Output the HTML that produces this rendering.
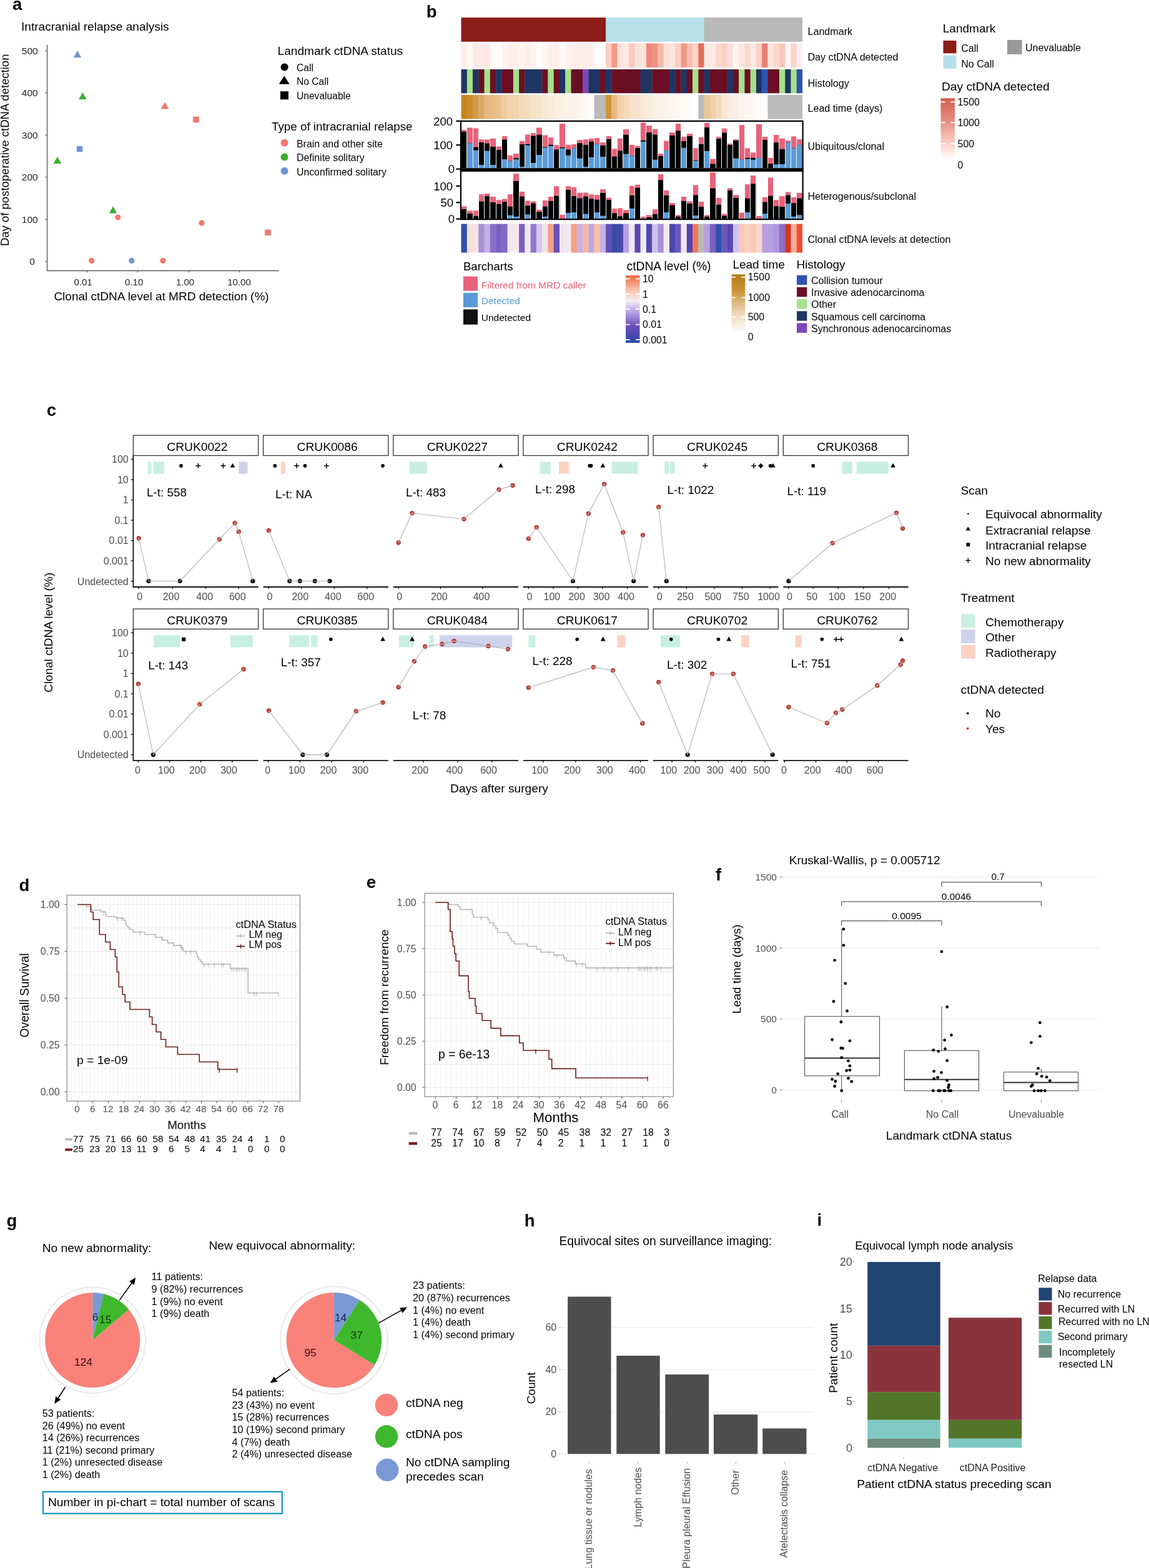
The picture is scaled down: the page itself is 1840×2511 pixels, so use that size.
<!DOCTYPE html>
<html><head><meta charset="utf-8"><title>Figure</title>
<style>
html,body{margin:0;padding:0;background:#fff;}
svg{display:block;}
svg text{font-family:"Liberation Sans", Arial, Helvetica, sans-serif;}
</style></head><body>
<svg width="1840" height="2511" viewBox="0 0 1840 2511">
<rect width="1840" height="2511" fill="#fff"/>
<text x="20" y="15.6" font-size="27.5" font-weight="bold">a</text>
<text x="34" y="49.4" font-size="19.1">Intracranial relapse analysis</text>
<line x1="75.5" y1="71.8" x2="75.5" y2="434.2" stroke="#555" stroke-width="1.3"/>
<line x1="74.9" y1="433.5" x2="446.3" y2="433.5" stroke="#555" stroke-width="1.3"/>
<line x1="72.3" y1="418.6" x2="75.5" y2="418.6" stroke="#555" stroke-width="1"/>
<text x="55.8" y="423.9" font-size="15.5" text-anchor="end" fill="#222">0</text>
<line x1="72.3" y1="351.2" x2="75.5" y2="351.2" stroke="#555" stroke-width="1"/>
<text x="60.7" y="356.5" font-size="15.5" text-anchor="end" fill="#222">100</text>
<line x1="72.3" y1="283.7" x2="75.5" y2="283.7" stroke="#555" stroke-width="1"/>
<text x="60.7" y="289" font-size="15.5" text-anchor="end" fill="#222">200</text>
<line x1="72.3" y1="216.3" x2="75.5" y2="216.3" stroke="#555" stroke-width="1"/>
<text x="60.7" y="221.6" font-size="15.5" text-anchor="end" fill="#222">300</text>
<line x1="72.3" y1="148.8" x2="75.5" y2="148.8" stroke="#555" stroke-width="1"/>
<text x="60.7" y="154.1" font-size="15.5" text-anchor="end" fill="#222">400</text>
<line x1="72.3" y1="81.4" x2="75.5" y2="81.4" stroke="#555" stroke-width="1"/>
<text x="60.7" y="86.7" font-size="15.5" text-anchor="end" fill="#222">500</text>
<line x1="139.3" y1="433.5" x2="139.3" y2="436.5" stroke="#555" stroke-width="1"/>
<text x="133.1" y="457" font-size="15" text-anchor="middle" fill="#222">0.01</text>
<line x1="220.4" y1="433.5" x2="220.4" y2="436.5" stroke="#555" stroke-width="1"/>
<text x="214.7" y="457" font-size="15" text-anchor="middle" fill="#222">0.10</text>
<line x1="302.3" y1="433.5" x2="302.3" y2="436.5" stroke="#555" stroke-width="1"/>
<text x="296.6" y="457" font-size="15" text-anchor="middle" fill="#222">1.00</text>
<line x1="383.3" y1="433.5" x2="383.3" y2="436.5" stroke="#555" stroke-width="1"/>
<text x="383" y="457" font-size="15" text-anchor="middle" fill="#222">10.00</text>
<text x="258.5" y="480.7" font-size="19" text-anchor="middle">Clonal ctDNA level at MRD detection (%)</text>
<text x="14.3" y="240.3" font-size="18.5" text-anchor="middle" transform="rotate(-90 14.3 240.3)">Day of postoperative ctDNA detection</text>
<path d="M124 81L130.2 92.2L117.8 92.2Z" fill="#7196D4"/>
<path d="M132.3 147.8L138.6 159.1L126.1 159.1Z" fill="#3BAE30"/>
<path d="M264 163.2L270.2 174.4L257.8 174.4Z" fill="#F8766D"/>
<rect x="309.1" y="186.8" width="9.5" height="9.5" fill="#F8766D"/>
<rect x="122.8" y="233.8" width="9.5" height="9.5" fill="#7196D4"/>
<path d="M91.9 250.9L98.2 262.1L85.7 262.1Z" fill="#3BAE30"/>
<path d="M181 330.2L187.2 341.5L174.8 341.5Z" fill="#3BAE30"/>
<circle cx="188.8" cy="348" r="4.6" fill="#F8766D"/>
<circle cx="323" cy="357" r="4.6" fill="#F8766D"/>
<rect x="424.1" y="367.6" width="9.5" height="9.5" fill="#F8766D"/>
<circle cx="146.7" cy="417.4" r="4.6" fill="#F8766D"/>
<circle cx="210.8" cy="417.4" r="4.6" fill="#7196D4"/>
<circle cx="260.9" cy="417.4" r="4.6" fill="#F8766D"/>
<text x="444.6" y="88.1" font-size="19.1">Landmark ctDNA status</text>
<circle cx="455.6" cy="107.6" r="6" fill="#000"/>
<text x="475" y="114" font-size="15.6">Call</text>
<path d="M455.2 121.2L463.6 134.7L446.8 134.7Z" fill="#000"/>
<text x="475" y="136.4" font-size="15.6">No Call</text>
<rect x="448.9" y="146.3" width="13" height="13" fill="#000"/>
<text x="475" y="158.5" font-size="15.6">Unevaluable</text>
<text x="435" y="208.5" font-size="18.8">Type of intracranial relapse</text>
<circle cx="455.6" cy="228.8" r="6" fill="#F8766D"/>
<text x="475" y="235.6" font-size="15.9">Brain and other site</text>
<circle cx="455.6" cy="251.4" r="6" fill="#3BAE30"/>
<text x="475" y="258" font-size="15.9">Definite solitary</text>
<circle cx="455.6" cy="273.7" r="6" fill="#7196D4"/>
<text x="475" y="280.5" font-size="15.8">Unconfirmed solitary</text>
<text x="682.7" y="28.1" font-size="27.5" font-weight="bold">b</text>
<rect x="738.5" y="28.1" width="231.9" height="38.7" fill="#8B1C17"/>
<rect x="970.1" y="28.1" width="157.8" height="38.7" fill="#B7E0E9"/>
<rect x="1127.5" y="28.1" width="157.5" height="38.7" fill="#B9B9B9"/>
<rect x="738.5" y="69.4" width="9.6" height="38.6" fill="#fdeee9"/>
<rect x="747.8" y="69.4" width="9.6" height="38.6" fill="#fff7f5"/>
<rect x="757" y="69.4" width="9.6" height="38.6" fill="#fde8e4"/>
<rect x="766.3" y="69.4" width="9.6" height="38.6" fill="#fde9e5"/>
<rect x="775.6" y="69.4" width="9.6" height="38.6" fill="#fde6e2"/>
<rect x="784.8" y="69.4" width="9.6" height="38.6" fill="#fffaf9"/>
<rect x="794.1" y="69.4" width="9.6" height="38.6" fill="#fffcfb"/>
<rect x="803.3" y="69.4" width="9.6" height="38.6" fill="#fff4f1"/>
<rect x="812.6" y="69.4" width="18.9" height="38.6" fill="#feefeb"/>
<rect x="831.1" y="69.4" width="9.6" height="38.6" fill="#fff5f3"/>
<rect x="840.4" y="69.4" width="9.6" height="38.6" fill="#fdeee9"/>
<rect x="849.7" y="69.4" width="9.6" height="38.6" fill="#fff3f0"/>
<rect x="858.9" y="69.4" width="9.6" height="38.6" fill="#fffcfb"/>
<rect x="868.2" y="69.4" width="9.6" height="38.6" fill="#fff6f4"/>
<rect x="877.4" y="69.4" width="9.6" height="38.6" fill="#fdf0ec"/>
<rect x="886.7" y="69.4" width="9.6" height="38.6" fill="#fdeee9"/>
<rect x="896" y="69.4" width="9.6" height="38.6" fill="#fffbfa"/>
<rect x="905.2" y="69.4" width="9.6" height="38.6" fill="#fef1ed"/>
<rect x="914.5" y="69.4" width="18.9" height="38.6" fill="#fdeee9"/>
<rect x="933" y="69.4" width="9.6" height="38.6" fill="#fdece8"/>
<rect x="942.3" y="69.4" width="9.6" height="38.6" fill="#fdeee9"/>
<rect x="951.5" y="69.4" width="18.9" height="38.6" fill="#fffcfb"/>
<rect x="970.1" y="69.4" width="9.6" height="38.6" fill="#fccdc1"/>
<rect x="979.3" y="69.4" width="9.6" height="38.6" fill="#f49a88"/>
<rect x="988.6" y="69.4" width="9.6" height="38.6" fill="#fde0d8"/>
<rect x="997.9" y="69.4" width="9.6" height="38.6" fill="#fde8e2"/>
<rect x="1007.1" y="69.4" width="9.6" height="38.6" fill="#fac8bc"/>
<rect x="1016.4" y="69.4" width="9.6" height="38.6" fill="#fde0d8"/>
<rect x="1025.6" y="69.4" width="9.6" height="38.6" fill="#fde4dc"/>
<rect x="1034.9" y="69.4" width="9.6" height="38.6" fill="#ee8878"/>
<rect x="1044.2" y="69.4" width="9.6" height="38.6" fill="#f09080"/>
<rect x="1053.4" y="69.4" width="9.6" height="38.6" fill="#f8b8a8"/>
<rect x="1062.7" y="69.4" width="9.6" height="38.6" fill="#fde0d8"/>
<rect x="1072" y="69.4" width="9.6" height="38.6" fill="#fde4dc"/>
<rect x="1081.2" y="69.4" width="9.6" height="38.6" fill="#fcd0c4"/>
<rect x="1090.5" y="69.4" width="9.6" height="38.6" fill="#f09884"/>
<rect x="1099.7" y="69.4" width="9.6" height="38.6" fill="#f8c0b0"/>
<rect x="1109" y="69.4" width="9.6" height="38.6" fill="#fcd4c8"/>
<rect x="1118.3" y="69.4" width="9.6" height="38.6" fill="#e07060"/>
<rect x="1127.5" y="69.4" width="9.6" height="38.6" fill="#fdeae6"/>
<rect x="1136.8" y="69.4" width="9.6" height="38.6" fill="#fde8e2"/>
<rect x="1146.1" y="69.4" width="9.6" height="38.6" fill="#fcd8cc"/>
<rect x="1155.3" y="69.4" width="9.6" height="38.6" fill="#fad0c4"/>
<rect x="1164.6" y="69.4" width="9.6" height="38.6" fill="#fce0d8"/>
<rect x="1173.8" y="69.4" width="9.6" height="38.6" fill="#fff4f2"/>
<rect x="1183.1" y="69.4" width="9.6" height="38.6" fill="#fde6e0"/>
<rect x="1192.4" y="69.4" width="9.6" height="38.6" fill="#fcd8cc"/>
<rect x="1201.6" y="69.4" width="9.6" height="38.6" fill="#fde8e4"/>
<rect x="1210.9" y="69.4" width="9.6" height="38.6" fill="#fcd0c4"/>
<rect x="1220.2" y="69.4" width="9.6" height="38.6" fill="#e88070"/>
<rect x="1229.4" y="69.4" width="9.6" height="38.6" fill="#fde4dc"/>
<rect x="1238.7" y="69.4" width="9.6" height="38.6" fill="#fcd8cc"/>
<rect x="1247.9" y="69.4" width="9.6" height="38.6" fill="#fac8b8"/>
<rect x="1257.2" y="69.4" width="9.6" height="38.6" fill="#fff6f4"/>
<rect x="1266.5" y="69.4" width="9.6" height="38.6" fill="#fad4c8"/>
<rect x="1275.7" y="69.4" width="9.3" height="38.6" fill="#fdf0ec"/>
<rect x="738.5" y="111" width="9.6" height="38.3" fill="#1E3562"/>
<rect x="747.8" y="111" width="9.6" height="38.3" fill="#A6E08A"/>
<rect x="757" y="111" width="9.6" height="38.3" fill="#1E3562"/>
<rect x="766.3" y="111" width="9.6" height="38.3" fill="#6A0F23"/>
<rect x="775.6" y="111" width="9.6" height="38.3" fill="#A6E08A"/>
<rect x="784.8" y="111" width="9.6" height="38.3" fill="#6A0F23"/>
<rect x="794.1" y="111" width="9.6" height="38.3" fill="#1E3562"/>
<rect x="803.3" y="111" width="18.9" height="38.3" fill="#6A0F23"/>
<rect x="821.9" y="111" width="9.6" height="38.3" fill="#A6E08A"/>
<rect x="831.1" y="111" width="9.6" height="38.3" fill="#6A0F23"/>
<rect x="840.4" y="111" width="28.1" height="38.3" fill="#1E3562"/>
<rect x="868.2" y="111" width="9.6" height="38.3" fill="#6A0F23"/>
<rect x="877.4" y="111" width="9.6" height="38.3" fill="#A6E08A"/>
<rect x="886.7" y="111" width="9.6" height="38.3" fill="#6A0F23"/>
<rect x="896" y="111" width="9.6" height="38.3" fill="#1E3562"/>
<rect x="905.2" y="111" width="9.6" height="38.3" fill="#A6E08A"/>
<rect x="914.5" y="111" width="18.9" height="38.3" fill="#6A0F23"/>
<rect x="933" y="111" width="9.6" height="38.3" fill="#7E45BE"/>
<rect x="942.3" y="111" width="18.9" height="38.3" fill="#1E3562"/>
<rect x="960.8" y="111" width="9.6" height="38.3" fill="#6A0F23"/>
<rect x="970.1" y="111" width="9.6" height="38.3" fill="#1E3562"/>
<rect x="979.3" y="111" width="46.7" height="38.3" fill="#6A0F23"/>
<rect x="1025.6" y="111" width="18.9" height="38.3" fill="#1E3562"/>
<rect x="1044.2" y="111" width="28.1" height="38.3" fill="#6A0F23"/>
<rect x="1072" y="111" width="9.6" height="38.3" fill="#1E3562"/>
<rect x="1081.2" y="111" width="9.6" height="38.3" fill="#6A0F23"/>
<rect x="1090.5" y="111" width="9.6" height="38.3" fill="#1E3562"/>
<rect x="1099.7" y="111" width="9.6" height="38.3" fill="#6A0F23"/>
<rect x="1109" y="111" width="9.6" height="38.3" fill="#A6E08A"/>
<rect x="1118.3" y="111" width="9.6" height="38.3" fill="#6A0F23"/>
<rect x="1127.5" y="111" width="9.6" height="38.3" fill="#1E3562"/>
<rect x="1136.8" y="111" width="28.1" height="38.3" fill="#6A0F23"/>
<rect x="1164.6" y="111" width="9.6" height="38.3" fill="#1E3562"/>
<rect x="1173.8" y="111" width="9.6" height="38.3" fill="#6A0F23"/>
<rect x="1183.1" y="111" width="9.6" height="38.3" fill="#A6E08A"/>
<rect x="1192.4" y="111" width="9.6" height="38.3" fill="#6A0F23"/>
<rect x="1201.6" y="111" width="9.6" height="38.3" fill="#A6E08A"/>
<rect x="1210.9" y="111" width="9.6" height="38.3" fill="#1E3562"/>
<rect x="1220.2" y="111" width="9.6" height="38.3" fill="#2E53B2"/>
<rect x="1229.4" y="111" width="18.9" height="38.3" fill="#6A0F23"/>
<rect x="1247.9" y="111" width="9.6" height="38.3" fill="#A6E08A"/>
<rect x="1257.2" y="111" width="9.6" height="38.3" fill="#1E3562"/>
<rect x="1266.5" y="111" width="9.6" height="38.3" fill="#A6E08A"/>
<rect x="1275.7" y="111" width="9.3" height="38.3" fill="#2E53B2"/>
<rect x="738.5" y="152" width="9.6" height="38.6" fill="#c8841e"/>
<rect x="747.8" y="152" width="9.6" height="38.6" fill="#cc8c2c"/>
<rect x="757" y="152" width="9.6" height="38.6" fill="#d09a44"/>
<rect x="766.3" y="152" width="9.6" height="38.6" fill="#dca866"/>
<rect x="775.6" y="152" width="9.6" height="38.6" fill="#e4b880"/>
<rect x="784.8" y="152" width="9.6" height="38.6" fill="#e8bc84"/>
<rect x="794.1" y="152" width="9.6" height="38.6" fill="#eac08a"/>
<rect x="803.3" y="152" width="9.6" height="38.6" fill="#f0cca0"/>
<rect x="812.6" y="152" width="9.6" height="38.6" fill="#f2d2aa"/>
<rect x="821.9" y="152" width="9.6" height="38.6" fill="#f2d4ae"/>
<rect x="831.1" y="152" width="9.6" height="38.6" fill="#f4dab8"/>
<rect x="840.4" y="152" width="9.6" height="38.6" fill="#f4dcbc"/>
<rect x="849.7" y="152" width="9.6" height="38.6" fill="#f6e2c6"/>
<rect x="858.9" y="152" width="9.6" height="38.6" fill="#f6e4ca"/>
<rect x="868.2" y="152" width="9.6" height="38.6" fill="#f8e8d2"/>
<rect x="877.4" y="152" width="9.6" height="38.6" fill="#f8eada"/>
<rect x="886.7" y="152" width="9.6" height="38.6" fill="#faeedf"/>
<rect x="896" y="152" width="9.6" height="38.6" fill="#fbf0e4"/>
<rect x="905.2" y="152" width="9.6" height="38.6" fill="#fcf2e8"/>
<rect x="914.5" y="152" width="9.6" height="38.6" fill="#fcf4ec"/>
<rect x="923.8" y="152" width="9.6" height="38.6" fill="#fdf6f0"/>
<rect x="933" y="152" width="9.6" height="38.6" fill="#fefaf6"/>
<rect x="942.3" y="152" width="9.6" height="38.6" fill="#ffffff"/>
<rect x="951.5" y="152" width="18.9" height="38.6" fill="#bbbbbb"/>
<rect x="970.1" y="152" width="9.6" height="38.6" fill="#d09438"/>
<rect x="979.3" y="152" width="9.6" height="38.6" fill="#e8b880"/>
<rect x="988.6" y="152" width="9.6" height="38.6" fill="#f2d2ae"/>
<rect x="997.9" y="152" width="9.6" height="38.6" fill="#f4d8b8"/>
<rect x="1007.1" y="152" width="9.6" height="38.6" fill="#f6e0c8"/>
<rect x="1016.4" y="152" width="9.6" height="38.6" fill="#f6e2cc"/>
<rect x="1025.6" y="152" width="9.6" height="38.6" fill="#f8e8d6"/>
<rect x="1034.9" y="152" width="9.6" height="38.6" fill="#faecdc"/>
<rect x="1044.2" y="152" width="9.6" height="38.6" fill="#fbf0e4"/>
<rect x="1053.4" y="152" width="9.6" height="38.6" fill="#fcf2e8"/>
<rect x="1062.7" y="152" width="9.6" height="38.6" fill="#fcf4ec"/>
<rect x="1072" y="152" width="9.6" height="38.6" fill="#fdf6f0"/>
<rect x="1081.2" y="152" width="9.6" height="38.6" fill="#fef8f4"/>
<rect x="1090.5" y="152" width="9.6" height="38.6" fill="#fefaf8"/>
<rect x="1099.7" y="152" width="9.6" height="38.6" fill="#fffcfa"/>
<rect x="1109" y="152" width="9.6" height="38.6" fill="#ffffff"/>
<rect x="1118.3" y="152" width="9.6" height="38.6" fill="#bbbbbb"/>
<rect x="1127.5" y="152" width="9.6" height="38.6" fill="#ecc898"/>
<rect x="1136.8" y="152" width="9.6" height="38.6" fill="#f0d0a8"/>
<rect x="1146.1" y="152" width="9.6" height="38.6" fill="#f2d8b8"/>
<rect x="1155.3" y="152" width="9.6" height="38.6" fill="#f8e8d8"/>
<rect x="1164.6" y="152" width="9.6" height="38.6" fill="#faeee2"/>
<rect x="1173.8" y="152" width="9.6" height="38.6" fill="#fbf0e6"/>
<rect x="1183.1" y="152" width="9.6" height="38.6" fill="#fcf4ec"/>
<rect x="1192.4" y="152" width="9.6" height="38.6" fill="#fdf6f0"/>
<rect x="1201.6" y="152" width="9.6" height="38.6" fill="#fef8f4"/>
<rect x="1210.9" y="152" width="9.6" height="38.6" fill="#fffaf8"/>
<rect x="1220.2" y="152" width="9.6" height="38.6" fill="#ffffff"/>
<rect x="1229.4" y="152" width="55.6" height="38.6" fill="#bbbbbb"/>
<rect x="738.5" y="207.9" width="9.6" height="61.5" fill="#E8637A"/>
<rect x="738.5" y="210.9" width="9.6" height="58.5" fill="#000"/>
<rect x="747.8" y="204.5" width="9.6" height="64.9" fill="#E8637A"/>
<rect x="747.8" y="229.3" width="9.6" height="40.1" fill="#000"/>
<rect x="747.8" y="229.3" width="9.6" height="40.1" fill="#5B9BD5"/>
<rect x="757" y="205.3" width="9.6" height="64.1" fill="#E8637A"/>
<rect x="757" y="235.6" width="9.6" height="33.8" fill="#000"/>
<rect x="757" y="240.7" width="9.6" height="28.7" fill="#5B9BD5"/>
<rect x="766.3" y="223.3" width="9.6" height="46.1" fill="#E8637A"/>
<rect x="766.3" y="228.1" width="9.6" height="41.2" fill="#000"/>
<rect x="766.3" y="264.1" width="9.6" height="5.2" fill="#5B9BD5"/>
<rect x="775.6" y="223.3" width="9.6" height="46.1" fill="#E8637A"/>
<rect x="775.6" y="229.6" width="9.6" height="39.8" fill="#000"/>
<rect x="775.6" y="241.6" width="9.6" height="27.8" fill="#5B9BD5"/>
<rect x="784.8" y="221.8" width="9.6" height="47.6" fill="#E8637A"/>
<rect x="784.8" y="234.9" width="9.6" height="34.5" fill="#000"/>
<rect x="784.8" y="264.1" width="9.6" height="5.2" fill="#5B9BD5"/>
<rect x="794.1" y="234.5" width="9.6" height="34.9" fill="#E8637A"/>
<rect x="794.1" y="240.1" width="9.6" height="29.2" fill="#000"/>
<rect x="803.3" y="218" width="9.6" height="51.4" fill="#E8637A"/>
<rect x="803.3" y="223.6" width="9.6" height="45.8" fill="#000"/>
<rect x="803.3" y="255.1" width="9.6" height="14.2" fill="#5B9BD5"/>
<rect x="812.6" y="248.8" width="9.6" height="20.6" fill="#E8637A"/>
<rect x="812.6" y="257.8" width="9.6" height="11.6" fill="#000"/>
<rect x="812.6" y="257.8" width="9.6" height="11.6" fill="#5B9BD5"/>
<rect x="821.9" y="246.1" width="9.6" height="23.2" fill="#E8637A"/>
<rect x="821.9" y="253.3" width="9.6" height="16.1" fill="#000"/>
<rect x="821.9" y="255.1" width="9.6" height="14.2" fill="#5B9BD5"/>
<rect x="831.1" y="225.9" width="9.6" height="43.5" fill="#E8637A"/>
<rect x="831.1" y="231.1" width="9.6" height="38.2" fill="#000"/>
<rect x="831.1" y="267.1" width="9.6" height="2.2" fill="#5B9BD5"/>
<rect x="840.4" y="215.4" width="9.6" height="54" fill="#E8637A"/>
<rect x="840.4" y="230.8" width="9.6" height="38.6" fill="#000"/>
<rect x="840.4" y="232.6" width="9.6" height="36.8" fill="#5B9BD5"/>
<rect x="849.7" y="213.1" width="9.6" height="56.2" fill="#E8637A"/>
<rect x="849.7" y="217.6" width="9.6" height="51.8" fill="#000"/>
<rect x="849.7" y="260.8" width="9.6" height="8.6" fill="#5B9BD5"/>
<rect x="858.9" y="204.5" width="9.6" height="64.9" fill="#E8637A"/>
<rect x="858.9" y="215.8" width="9.6" height="53.6" fill="#000"/>
<rect x="858.9" y="248" width="9.6" height="21.4" fill="#5B9BD5"/>
<rect x="868.2" y="216.5" width="9.6" height="52.9" fill="#E8637A"/>
<rect x="868.2" y="235.6" width="9.6" height="33.8" fill="#000"/>
<rect x="868.2" y="236.4" width="9.6" height="33" fill="#5B9BD5"/>
<rect x="877.4" y="219.9" width="9.6" height="49.5" fill="#E8637A"/>
<rect x="877.4" y="231.9" width="9.6" height="37.5" fill="#000"/>
<rect x="877.4" y="233.8" width="9.6" height="35.6" fill="#5B9BD5"/>
<rect x="886.7" y="232.3" width="9.6" height="37.1" fill="#E8637A"/>
<rect x="886.7" y="239.4" width="9.6" height="30" fill="#000"/>
<rect x="896" y="198.1" width="9.6" height="71.2" fill="#E8637A"/>
<rect x="896" y="236" width="9.6" height="33.4" fill="#000"/>
<rect x="896" y="237.5" width="9.6" height="31.9" fill="#5B9BD5"/>
<rect x="905.2" y="231.9" width="9.6" height="37.5" fill="#E8637A"/>
<rect x="905.2" y="239.4" width="9.6" height="30" fill="#000"/>
<rect x="905.2" y="248.8" width="9.6" height="20.6" fill="#5B9BD5"/>
<rect x="914.5" y="231.1" width="9.6" height="38.2" fill="#E8637A"/>
<rect x="914.5" y="237.5" width="9.6" height="31.9" fill="#000"/>
<rect x="914.5" y="237.5" width="9.6" height="31.9" fill="#5B9BD5"/>
<rect x="923.8" y="224" width="9.6" height="45.4" fill="#E8637A"/>
<rect x="923.8" y="229.3" width="9.6" height="40.1" fill="#000"/>
<rect x="923.8" y="253.6" width="9.6" height="15.8" fill="#5B9BD5"/>
<rect x="933" y="223.3" width="9.6" height="46.1" fill="#E8637A"/>
<rect x="933" y="231.9" width="9.6" height="37.5" fill="#000"/>
<rect x="933" y="267.1" width="9.6" height="2.2" fill="#5B9BD5"/>
<rect x="942.3" y="221.8" width="9.6" height="47.6" fill="#E8637A"/>
<rect x="942.3" y="226.6" width="9.6" height="42.8" fill="#000"/>
<rect x="942.3" y="251.8" width="9.6" height="17.6" fill="#5B9BD5"/>
<rect x="951.5" y="221" width="9.6" height="48.4" fill="#E8637A"/>
<rect x="951.5" y="230.4" width="9.6" height="39" fill="#000"/>
<rect x="951.5" y="230.4" width="9.6" height="39" fill="#5B9BD5"/>
<rect x="960.8" y="228.1" width="9.6" height="41.2" fill="#E8637A"/>
<rect x="960.8" y="233" width="9.6" height="36.4" fill="#000"/>
<rect x="960.8" y="251" width="9.6" height="18.4" fill="#5B9BD5"/>
<rect x="970.1" y="218" width="9.6" height="51.4" fill="#E8637A"/>
<rect x="970.1" y="222.9" width="9.6" height="46.5" fill="#000"/>
<rect x="979.3" y="238.3" width="9.6" height="31.1" fill="#E8637A"/>
<rect x="979.3" y="250.6" width="9.6" height="18.8" fill="#000"/>
<rect x="988.6" y="221.8" width="9.6" height="47.6" fill="#E8637A"/>
<rect x="988.6" y="241.3" width="9.6" height="28.1" fill="#000"/>
<rect x="997.9" y="207.1" width="9.6" height="62.2" fill="#E8637A"/>
<rect x="997.9" y="215.8" width="9.6" height="53.6" fill="#000"/>
<rect x="997.9" y="246.5" width="9.6" height="22.9" fill="#5B9BD5"/>
<rect x="1007.1" y="231.9" width="9.6" height="37.5" fill="#E8637A"/>
<rect x="1007.1" y="249.5" width="9.6" height="19.9" fill="#000"/>
<rect x="1007.1" y="249.5" width="9.6" height="19.9" fill="#5B9BD5"/>
<rect x="1016.4" y="233.6" width="9.6" height="35.8" fill="#E8637A"/>
<rect x="1016.4" y="237" width="9.6" height="32.4" fill="#000"/>
<rect x="1025.6" y="196.3" width="9.6" height="73.1" fill="#E8637A"/>
<rect x="1025.6" y="224.8" width="9.6" height="44.6" fill="#000"/>
<rect x="1025.6" y="226.8" width="9.6" height="42.6" fill="#5B9BD5"/>
<rect x="1034.9" y="201.1" width="9.6" height="68.3" fill="#E8637A"/>
<rect x="1034.9" y="212.1" width="9.6" height="57.3" fill="#000"/>
<rect x="1044.2" y="206.7" width="9.6" height="62.7" fill="#E8637A"/>
<rect x="1044.2" y="215.5" width="9.6" height="53.9" fill="#000"/>
<rect x="1044.2" y="255.8" width="9.6" height="13.6" fill="#5B9BD5"/>
<rect x="1053.4" y="246" width="9.6" height="23.4" fill="#E8637A"/>
<rect x="1053.4" y="249.9" width="9.6" height="19.5" fill="#000"/>
<rect x="1062.7" y="225.7" width="9.6" height="43.7" fill="#E8637A"/>
<rect x="1062.7" y="240.9" width="9.6" height="28.5" fill="#000"/>
<rect x="1062.7" y="240.9" width="9.6" height="28.5" fill="#5B9BD5"/>
<rect x="1072" y="212.1" width="9.6" height="57.3" fill="#E8637A"/>
<rect x="1072" y="216.9" width="9.6" height="52.5" fill="#000"/>
<rect x="1081.2" y="198.2" width="9.6" height="71.2" fill="#E8637A"/>
<rect x="1081.2" y="209.5" width="9.6" height="59.8" fill="#000"/>
<rect x="1090.5" y="218.9" width="9.6" height="50.5" fill="#E8637A"/>
<rect x="1090.5" y="226" width="9.6" height="43.4" fill="#000"/>
<rect x="1090.5" y="236.7" width="9.6" height="32.7" fill="#5B9BD5"/>
<rect x="1099.7" y="214.1" width="9.6" height="55.3" fill="#E8637A"/>
<rect x="1099.7" y="218" width="9.6" height="51.4" fill="#000"/>
<rect x="1109" y="237.2" width="9.6" height="32.2" fill="#E8637A"/>
<rect x="1109" y="256.7" width="9.6" height="12.7" fill="#000"/>
<rect x="1109" y="257.5" width="9.6" height="11.9" fill="#5B9BD5"/>
<rect x="1118.3" y="219.7" width="9.6" height="49.7" fill="#E8637A"/>
<rect x="1118.3" y="230.8" width="9.6" height="38.6" fill="#000"/>
<rect x="1127.5" y="196.8" width="9.6" height="72.6" fill="#E8637A"/>
<rect x="1127.5" y="204" width="9.6" height="65.4" fill="#000"/>
<rect x="1127.5" y="241.8" width="9.6" height="27.6" fill="#5B9BD5"/>
<rect x="1136.8" y="254.5" width="9.6" height="14.9" fill="#E8637A"/>
<rect x="1136.8" y="262.5" width="9.6" height="6.9" fill="#000"/>
<rect x="1146.1" y="218.9" width="9.6" height="50.5" fill="#E8637A"/>
<rect x="1146.1" y="222.3" width="9.6" height="47.1" fill="#000"/>
<rect x="1155.3" y="205.8" width="9.6" height="63.6" fill="#E8637A"/>
<rect x="1155.3" y="212.6" width="9.6" height="56.8" fill="#000"/>
<rect x="1164.6" y="229.9" width="9.6" height="39.5" fill="#E8637A"/>
<rect x="1164.6" y="232.1" width="9.6" height="37.3" fill="#000"/>
<rect x="1173.8" y="223.1" width="9.6" height="46.3" fill="#E8637A"/>
<rect x="1173.8" y="225.1" width="9.6" height="44.2" fill="#000"/>
<rect x="1173.8" y="253.6" width="9.6" height="15.8" fill="#5B9BD5"/>
<rect x="1183.1" y="200.2" width="9.6" height="69.2" fill="#E8637A"/>
<rect x="1183.1" y="255.8" width="9.6" height="13.6" fill="#000"/>
<rect x="1183.1" y="255.8" width="9.6" height="13.6" fill="#5B9BD5"/>
<rect x="1192.4" y="237.5" width="9.6" height="31.9" fill="#E8637A"/>
<rect x="1192.4" y="252.8" width="9.6" height="16.6" fill="#000"/>
<rect x="1192.4" y="254.5" width="9.6" height="14.9" fill="#5B9BD5"/>
<rect x="1201.6" y="244.3" width="9.6" height="25.1" fill="#E8637A"/>
<rect x="1201.6" y="252.8" width="9.6" height="16.6" fill="#000"/>
<rect x="1201.6" y="255.8" width="9.6" height="13.6" fill="#5B9BD5"/>
<rect x="1210.9" y="199" width="9.6" height="70.3" fill="#E8637A"/>
<rect x="1210.9" y="252.8" width="9.6" height="16.6" fill="#000"/>
<rect x="1210.9" y="252.8" width="9.6" height="16.6" fill="#5B9BD5"/>
<rect x="1220.2" y="218.9" width="9.6" height="50.5" fill="#E8637A"/>
<rect x="1220.2" y="224" width="9.6" height="45.4" fill="#000"/>
<rect x="1229.4" y="252.8" width="9.6" height="16.6" fill="#E8637A"/>
<rect x="1229.4" y="262.1" width="9.6" height="7.3" fill="#000"/>
<rect x="1238.7" y="216" width="9.6" height="53.4" fill="#E8637A"/>
<rect x="1238.7" y="228.2" width="9.6" height="41.2" fill="#000"/>
<rect x="1238.7" y="263.3" width="9.6" height="6.1" fill="#5B9BD5"/>
<rect x="1247.9" y="221.8" width="9.6" height="47.6" fill="#E8637A"/>
<rect x="1247.9" y="238.9" width="9.6" height="30.5" fill="#000"/>
<rect x="1247.9" y="262.9" width="9.6" height="6.4" fill="#5B9BD5"/>
<rect x="1257.2" y="225.1" width="9.6" height="44.2" fill="#E8637A"/>
<rect x="1257.2" y="228.2" width="9.6" height="41.2" fill="#000"/>
<rect x="1257.2" y="228.2" width="9.6" height="41.2" fill="#5B9BD5"/>
<rect x="1266.5" y="218.4" width="9.6" height="51" fill="#E8637A"/>
<rect x="1266.5" y="237.5" width="9.6" height="31.9" fill="#000"/>
<rect x="1266.5" y="237.5" width="9.6" height="31.9" fill="#5B9BD5"/>
<rect x="1275.7" y="223.1" width="9.6" height="46.3" fill="#E8637A"/>
<rect x="1275.7" y="232.1" width="9.6" height="37.3" fill="#000"/>
<rect x="1275.7" y="232.1" width="9.6" height="37.3" fill="#5B9BD5"/>
<line x1="747.5" y1="204" x2="747.5" y2="269.4" stroke="#EEF8FC" stroke-width="1"/>
<line x1="757.5" y1="204" x2="757.5" y2="269.4" stroke="#EEF8FC" stroke-width="1"/>
<line x1="766.5" y1="204.8" x2="766.5" y2="269.4" stroke="#EEF8FC" stroke-width="1"/>
<line x1="775.5" y1="222.8" x2="775.5" y2="269.4" stroke="#EEF8FC" stroke-width="1"/>
<line x1="784.5" y1="221.3" x2="784.5" y2="269.4" stroke="#EEF8FC" stroke-width="1"/>
<line x1="794.5" y1="221.3" x2="794.5" y2="269.4" stroke="#EEF8FC" stroke-width="1"/>
<line x1="803.5" y1="217.5" x2="803.5" y2="269.4" stroke="#EEF8FC" stroke-width="1"/>
<line x1="812.5" y1="217.5" x2="812.5" y2="269.4" stroke="#EEF8FC" stroke-width="1"/>
<line x1="821.5" y1="245.6" x2="821.5" y2="269.4" stroke="#EEF8FC" stroke-width="1"/>
<line x1="831.5" y1="225.4" x2="831.5" y2="269.4" stroke="#EEF8FC" stroke-width="1"/>
<line x1="840.5" y1="214.9" x2="840.5" y2="269.4" stroke="#EEF8FC" stroke-width="1"/>
<line x1="849.5" y1="212.6" x2="849.5" y2="269.4" stroke="#EEF8FC" stroke-width="1"/>
<line x1="858.5" y1="204" x2="858.5" y2="269.4" stroke="#EEF8FC" stroke-width="1"/>
<line x1="868.5" y1="204" x2="868.5" y2="269.4" stroke="#EEF8FC" stroke-width="1"/>
<line x1="877.5" y1="216" x2="877.5" y2="269.4" stroke="#EEF8FC" stroke-width="1"/>
<line x1="886.5" y1="219.4" x2="886.5" y2="269.4" stroke="#EEF8FC" stroke-width="1"/>
<line x1="895.5" y1="197.6" x2="895.5" y2="269.4" stroke="#EEF8FC" stroke-width="1"/>
<line x1="905.5" y1="197.6" x2="905.5" y2="269.4" stroke="#EEF8FC" stroke-width="1"/>
<line x1="914.5" y1="230.6" x2="914.5" y2="269.4" stroke="#EEF8FC" stroke-width="1"/>
<line x1="923.5" y1="223.5" x2="923.5" y2="269.4" stroke="#EEF8FC" stroke-width="1"/>
<line x1="933.5" y1="222.8" x2="933.5" y2="269.4" stroke="#EEF8FC" stroke-width="1"/>
<line x1="942.5" y1="221.3" x2="942.5" y2="269.4" stroke="#EEF8FC" stroke-width="1"/>
<line x1="951.5" y1="220.5" x2="951.5" y2="269.4" stroke="#EEF8FC" stroke-width="1"/>
<line x1="960.5" y1="220.5" x2="960.5" y2="269.4" stroke="#EEF8FC" stroke-width="1"/>
<line x1="970.5" y1="217.5" x2="970.5" y2="269.4" stroke="#EEF8FC" stroke-width="1"/>
<line x1="979.5" y1="217.5" x2="979.5" y2="269.4" stroke="#EEF8FC" stroke-width="1"/>
<line x1="988.5" y1="221.3" x2="988.5" y2="269.4" stroke="#EEF8FC" stroke-width="1"/>
<line x1="997.5" y1="206.6" x2="997.5" y2="269.4" stroke="#EEF8FC" stroke-width="1"/>
<line x1="1007.5" y1="206.6" x2="1007.5" y2="269.4" stroke="#EEF8FC" stroke-width="1"/>
<line x1="1016.5" y1="231.4" x2="1016.5" y2="269.4" stroke="#EEF8FC" stroke-width="1"/>
<line x1="1025.5" y1="195.8" x2="1025.5" y2="269.4" stroke="#EEF8FC" stroke-width="1"/>
<line x1="1034.5" y1="195.8" x2="1034.5" y2="269.4" stroke="#EEF8FC" stroke-width="1"/>
<line x1="1044.5" y1="200.6" x2="1044.5" y2="269.4" stroke="#EEF8FC" stroke-width="1"/>
<line x1="1053.5" y1="206.2" x2="1053.5" y2="269.4" stroke="#EEF8FC" stroke-width="1"/>
<line x1="1062.5" y1="225.2" x2="1062.5" y2="269.4" stroke="#EEF8FC" stroke-width="1"/>
<line x1="1071.5" y1="211.6" x2="1071.5" y2="269.4" stroke="#EEF8FC" stroke-width="1"/>
<line x1="1081.5" y1="197.7" x2="1081.5" y2="269.4" stroke="#EEF8FC" stroke-width="1"/>
<line x1="1090.5" y1="197.7" x2="1090.5" y2="269.4" stroke="#EEF8FC" stroke-width="1"/>
<line x1="1099.5" y1="213.6" x2="1099.5" y2="269.4" stroke="#EEF8FC" stroke-width="1"/>
<line x1="1109.5" y1="213.6" x2="1109.5" y2="269.4" stroke="#EEF8FC" stroke-width="1"/>
<line x1="1118.5" y1="219.2" x2="1118.5" y2="269.4" stroke="#EEF8FC" stroke-width="1"/>
<line x1="1127.5" y1="196.3" x2="1127.5" y2="269.4" stroke="#EEF8FC" stroke-width="1"/>
<line x1="1136.5" y1="196.3" x2="1136.5" y2="269.4" stroke="#EEF8FC" stroke-width="1"/>
<line x1="1146.5" y1="218.4" x2="1146.5" y2="269.4" stroke="#EEF8FC" stroke-width="1"/>
<line x1="1155.5" y1="205.3" x2="1155.5" y2="269.4" stroke="#EEF8FC" stroke-width="1"/>
<line x1="1164.5" y1="205.3" x2="1164.5" y2="269.4" stroke="#EEF8FC" stroke-width="1"/>
<line x1="1173.5" y1="222.6" x2="1173.5" y2="269.4" stroke="#EEF8FC" stroke-width="1"/>
<line x1="1183.5" y1="199.7" x2="1183.5" y2="269.4" stroke="#EEF8FC" stroke-width="1"/>
<line x1="1192.5" y1="199.7" x2="1192.5" y2="269.4" stroke="#EEF8FC" stroke-width="1"/>
<line x1="1201.5" y1="237" x2="1201.5" y2="269.4" stroke="#EEF8FC" stroke-width="1"/>
<line x1="1210.5" y1="198.5" x2="1210.5" y2="269.4" stroke="#EEF8FC" stroke-width="1"/>
<line x1="1220.5" y1="198.5" x2="1220.5" y2="269.4" stroke="#EEF8FC" stroke-width="1"/>
<line x1="1229.5" y1="218.4" x2="1229.5" y2="269.4" stroke="#EEF8FC" stroke-width="1"/>
<line x1="1238.5" y1="215.5" x2="1238.5" y2="269.4" stroke="#EEF8FC" stroke-width="1"/>
<line x1="1247.5" y1="215.5" x2="1247.5" y2="269.4" stroke="#EEF8FC" stroke-width="1"/>
<line x1="1257.5" y1="221.3" x2="1257.5" y2="269.4" stroke="#EEF8FC" stroke-width="1"/>
<line x1="1266.5" y1="217.9" x2="1266.5" y2="269.4" stroke="#EEF8FC" stroke-width="1"/>
<line x1="1275.5" y1="217.9" x2="1275.5" y2="269.4" stroke="#EEF8FC" stroke-width="1"/>
<rect x="737.9" y="193.9" width="547.7" height="76.8" fill="none" stroke="#000" stroke-width="2.2"/>
<rect x="738.5" y="330.4" width="9.6" height="20.8" fill="#E8637A"/>
<rect x="738.5" y="334.9" width="9.6" height="16.3" fill="#000"/>
<rect x="747.8" y="337.5" width="9.6" height="13.7" fill="#E8637A"/>
<rect x="747.8" y="342" width="9.6" height="9.2" fill="#000"/>
<rect x="757" y="337.2" width="9.6" height="14" fill="#E8637A"/>
<rect x="757" y="345.9" width="9.6" height="5.3" fill="#000"/>
<rect x="766.3" y="311.2" width="9.6" height="40" fill="#E8637A"/>
<rect x="766.3" y="322.7" width="9.6" height="28.5" fill="#000"/>
<rect x="775.6" y="309.9" width="9.6" height="41.3" fill="#E8637A"/>
<rect x="775.6" y="314.1" width="9.6" height="37.1" fill="#000"/>
<rect x="784.8" y="315.1" width="9.6" height="36.1" fill="#E8637A"/>
<rect x="784.8" y="324" width="9.6" height="27.2" fill="#000"/>
<rect x="794.1" y="320.2" width="9.6" height="31" fill="#E8637A"/>
<rect x="794.1" y="326.8" width="9.6" height="24.4" fill="#000"/>
<rect x="803.3" y="318.5" width="9.6" height="32.7" fill="#E8637A"/>
<rect x="803.3" y="323.1" width="9.6" height="28.1" fill="#000"/>
<rect x="812.6" y="311.2" width="9.6" height="40" fill="#E8637A"/>
<rect x="812.6" y="330.7" width="9.6" height="20.5" fill="#000"/>
<rect x="812.6" y="344.8" width="9.6" height="6.4" fill="#5B9BD5"/>
<rect x="821.9" y="278.2" width="9.6" height="73" fill="#E8637A"/>
<rect x="821.9" y="290.1" width="9.6" height="61.1" fill="#000"/>
<rect x="821.9" y="346.8" width="9.6" height="4.4" fill="#5B9BD5"/>
<rect x="831.1" y="307" width="9.6" height="44.2" fill="#E8637A"/>
<rect x="831.1" y="314.6" width="9.6" height="36.6" fill="#000"/>
<rect x="840.4" y="321.4" width="9.6" height="29.8" fill="#E8637A"/>
<rect x="840.4" y="329.4" width="9.6" height="21.8" fill="#000"/>
<rect x="840.4" y="343.4" width="9.6" height="7.8" fill="#5B9BD5"/>
<rect x="849.7" y="322.3" width="9.6" height="28.9" fill="#E8637A"/>
<rect x="849.7" y="325.6" width="9.6" height="25.6" fill="#000"/>
<rect x="858.9" y="335.8" width="9.6" height="15.4" fill="#E8637A"/>
<rect x="858.9" y="339.2" width="9.6" height="12" fill="#000"/>
<rect x="868.2" y="320.9" width="9.6" height="30.3" fill="#E8637A"/>
<rect x="868.2" y="330.7" width="9.6" height="20.5" fill="#000"/>
<rect x="868.2" y="346.8" width="9.6" height="4.4" fill="#5B9BD5"/>
<rect x="877.4" y="315" width="9.6" height="36.2" fill="#E8637A"/>
<rect x="877.4" y="321.9" width="9.6" height="29.3" fill="#000"/>
<rect x="886.7" y="298.2" width="9.6" height="53" fill="#E8637A"/>
<rect x="886.7" y="313.7" width="9.6" height="37.5" fill="#000"/>
<rect x="896" y="343.9" width="9.6" height="7.3" fill="#E8637A"/>
<rect x="905.2" y="298.2" width="9.6" height="53" fill="#E8637A"/>
<rect x="905.2" y="304" width="9.6" height="47.2" fill="#000"/>
<rect x="905.2" y="340.9" width="9.6" height="10.3" fill="#5B9BD5"/>
<rect x="914.5" y="299.9" width="9.6" height="51.3" fill="#E8637A"/>
<rect x="914.5" y="314.1" width="9.6" height="37.1" fill="#000"/>
<rect x="914.5" y="340" width="9.6" height="11.2" fill="#5B9BD5"/>
<rect x="923.8" y="308.7" width="9.6" height="42.5" fill="#E8637A"/>
<rect x="923.8" y="317.5" width="9.6" height="33.7" fill="#000"/>
<rect x="933" y="308.3" width="9.6" height="42.9" fill="#E8637A"/>
<rect x="933" y="314.6" width="9.6" height="36.6" fill="#000"/>
<rect x="933" y="342.6" width="9.6" height="8.6" fill="#5B9BD5"/>
<rect x="942.3" y="311.2" width="9.6" height="40" fill="#E8637A"/>
<rect x="942.3" y="318" width="9.6" height="33.2" fill="#000"/>
<rect x="951.5" y="312.1" width="9.6" height="39.1" fill="#E8637A"/>
<rect x="951.5" y="319.7" width="9.6" height="31.5" fill="#000"/>
<rect x="951.5" y="340" width="9.6" height="11.2" fill="#5B9BD5"/>
<rect x="960.8" y="303.1" width="9.6" height="48.1" fill="#E8637A"/>
<rect x="960.8" y="309" width="9.6" height="42.2" fill="#000"/>
<rect x="960.8" y="345.6" width="9.6" height="5.6" fill="#5B9BD5"/>
<rect x="970.1" y="316.6" width="9.6" height="34.6" fill="#E8637A"/>
<rect x="970.1" y="320.2" width="9.6" height="31" fill="#000"/>
<rect x="979.3" y="334.1" width="9.6" height="17.1" fill="#E8637A"/>
<rect x="979.3" y="341.4" width="9.6" height="9.8" fill="#000"/>
<rect x="988.6" y="333.3" width="9.6" height="17.9" fill="#E8637A"/>
<rect x="988.6" y="346.3" width="9.6" height="4.9" fill="#000"/>
<rect x="997.9" y="336.3" width="9.6" height="14.9" fill="#E8637A"/>
<rect x="997.9" y="341.4" width="9.6" height="9.8" fill="#000"/>
<rect x="1007.1" y="297.7" width="9.6" height="53.5" fill="#E8637A"/>
<rect x="1007.1" y="312.9" width="9.6" height="38.3" fill="#000"/>
<rect x="1007.1" y="333.7" width="9.6" height="17.5" fill="#5B9BD5"/>
<rect x="1016.4" y="295.7" width="9.6" height="55.5" fill="#E8637A"/>
<rect x="1016.4" y="300.7" width="9.6" height="50.5" fill="#000"/>
<rect x="1025.6" y="346.8" width="9.6" height="4.4" fill="#E8637A"/>
<rect x="1034.9" y="344.3" width="9.6" height="6.9" fill="#E8637A"/>
<rect x="1034.9" y="348" width="9.6" height="3.2" fill="#000"/>
<rect x="1044.2" y="335.3" width="9.6" height="15.9" fill="#E8637A"/>
<rect x="1044.2" y="342.9" width="9.6" height="8.3" fill="#000"/>
<rect x="1053.4" y="279" width="9.6" height="72.2" fill="#E8637A"/>
<rect x="1053.4" y="288.3" width="9.6" height="62.9" fill="#000"/>
<rect x="1062.7" y="305" width="9.6" height="46.2" fill="#E8637A"/>
<rect x="1062.7" y="312.9" width="9.6" height="38.3" fill="#000"/>
<rect x="1062.7" y="340" width="9.6" height="11.2" fill="#5B9BD5"/>
<rect x="1072" y="325.1" width="9.6" height="26.1" fill="#E8637A"/>
<rect x="1072" y="328.7" width="9.6" height="22.5" fill="#000"/>
<rect x="1081.2" y="344.3" width="9.6" height="6.9" fill="#E8637A"/>
<rect x="1081.2" y="346.8" width="9.6" height="4.4" fill="#000"/>
<rect x="1090.5" y="315" width="9.6" height="36.2" fill="#E8637A"/>
<rect x="1090.5" y="321.9" width="9.6" height="29.3" fill="#000"/>
<rect x="1099.7" y="322.3" width="9.6" height="28.9" fill="#E8637A"/>
<rect x="1099.7" y="326.1" width="9.6" height="25.1" fill="#000"/>
<rect x="1109" y="296.5" width="9.6" height="54.7" fill="#E8637A"/>
<rect x="1109" y="312.4" width="9.6" height="38.8" fill="#000"/>
<rect x="1109" y="345.1" width="9.6" height="6.1" fill="#5B9BD5"/>
<rect x="1118.3" y="323.1" width="9.6" height="28.1" fill="#E8637A"/>
<rect x="1118.3" y="331.1" width="9.6" height="20.1" fill="#000"/>
<rect x="1127.5" y="344.3" width="9.6" height="6.9" fill="#E8637A"/>
<rect x="1127.5" y="346.8" width="9.6" height="4.4" fill="#000"/>
<rect x="1136.8" y="276.2" width="9.6" height="75" fill="#E8637A"/>
<rect x="1136.8" y="301.6" width="9.6" height="49.6" fill="#000"/>
<rect x="1146.1" y="316.8" width="9.6" height="34.4" fill="#E8637A"/>
<rect x="1146.1" y="327.8" width="9.6" height="23.4" fill="#000"/>
<rect x="1155.3" y="342.6" width="9.6" height="8.6" fill="#E8637A"/>
<rect x="1155.3" y="345.6" width="9.6" height="5.6" fill="#000"/>
<rect x="1164.6" y="301.4" width="9.6" height="49.8" fill="#E8637A"/>
<rect x="1164.6" y="304.8" width="9.6" height="46.4" fill="#000"/>
<rect x="1173.8" y="312.1" width="9.6" height="39.1" fill="#E8637A"/>
<rect x="1173.8" y="316.8" width="9.6" height="34.4" fill="#000"/>
<rect x="1183.1" y="340.5" width="9.6" height="10.7" fill="#E8637A"/>
<rect x="1192.4" y="295.1" width="9.6" height="56.1" fill="#E8637A"/>
<rect x="1192.4" y="317.6" width="9.6" height="33.6" fill="#000"/>
<rect x="1192.4" y="340" width="9.6" height="11.2" fill="#5B9BD5"/>
<rect x="1201.6" y="281.1" width="9.6" height="70.1" fill="#E8637A"/>
<rect x="1201.6" y="294.3" width="9.6" height="56.9" fill="#000"/>
<rect x="1210.9" y="345.9" width="9.6" height="5.3" fill="#E8637A"/>
<rect x="1220.2" y="315.8" width="9.6" height="35.4" fill="#E8637A"/>
<rect x="1220.2" y="323.6" width="9.6" height="27.6" fill="#000"/>
<rect x="1220.2" y="342.2" width="9.6" height="9" fill="#5B9BD5"/>
<rect x="1229.4" y="284.5" width="9.6" height="66.7" fill="#E8637A"/>
<rect x="1229.4" y="313.7" width="9.6" height="37.5" fill="#000"/>
<rect x="1238.7" y="320.2" width="9.6" height="31" fill="#E8637A"/>
<rect x="1238.7" y="330.2" width="9.6" height="21" fill="#000"/>
<rect x="1247.9" y="314.1" width="9.6" height="37.1" fill="#E8637A"/>
<rect x="1247.9" y="331.1" width="9.6" height="20.1" fill="#000"/>
<rect x="1257.2" y="307.5" width="9.6" height="43.7" fill="#E8637A"/>
<rect x="1257.2" y="312.6" width="9.6" height="38.6" fill="#000"/>
<rect x="1257.2" y="326" width="9.6" height="25.2" fill="#5B9BD5"/>
<rect x="1266.5" y="316" width="9.6" height="35.2" fill="#E8637A"/>
<rect x="1266.5" y="325.3" width="9.6" height="25.9" fill="#000"/>
<rect x="1266.5" y="346.8" width="9.6" height="4.4" fill="#5B9BD5"/>
<rect x="1275.7" y="308.7" width="9.6" height="42.5" fill="#E8637A"/>
<rect x="1275.7" y="317.6" width="9.6" height="33.6" fill="#000"/>
<rect x="1275.7" y="344.3" width="9.6" height="6.9" fill="#5B9BD5"/>
<line x1="747.5" y1="329.9" x2="747.5" y2="351.2" stroke="#EEF8FC" stroke-width="1"/>
<line x1="757.5" y1="336.7" x2="757.5" y2="351.2" stroke="#EEF8FC" stroke-width="1"/>
<line x1="766.5" y1="310.7" x2="766.5" y2="351.2" stroke="#EEF8FC" stroke-width="1"/>
<line x1="775.5" y1="309.4" x2="775.5" y2="351.2" stroke="#EEF8FC" stroke-width="1"/>
<line x1="784.5" y1="309.4" x2="784.5" y2="351.2" stroke="#EEF8FC" stroke-width="1"/>
<line x1="794.5" y1="314.6" x2="794.5" y2="351.2" stroke="#EEF8FC" stroke-width="1"/>
<line x1="803.5" y1="318" x2="803.5" y2="351.2" stroke="#EEF8FC" stroke-width="1"/>
<line x1="812.5" y1="310.7" x2="812.5" y2="351.2" stroke="#EEF8FC" stroke-width="1"/>
<line x1="821.5" y1="277.7" x2="821.5" y2="351.2" stroke="#EEF8FC" stroke-width="1"/>
<line x1="831.5" y1="277.7" x2="831.5" y2="351.2" stroke="#EEF8FC" stroke-width="1"/>
<line x1="840.5" y1="306.5" x2="840.5" y2="351.2" stroke="#EEF8FC" stroke-width="1"/>
<line x1="849.5" y1="320.9" x2="849.5" y2="351.2" stroke="#EEF8FC" stroke-width="1"/>
<line x1="858.5" y1="321.8" x2="858.5" y2="351.2" stroke="#EEF8FC" stroke-width="1"/>
<line x1="868.5" y1="320.4" x2="868.5" y2="351.2" stroke="#EEF8FC" stroke-width="1"/>
<line x1="877.5" y1="314.5" x2="877.5" y2="351.2" stroke="#EEF8FC" stroke-width="1"/>
<line x1="886.5" y1="297.7" x2="886.5" y2="351.2" stroke="#EEF8FC" stroke-width="1"/>
<line x1="895.5" y1="297.7" x2="895.5" y2="351.2" stroke="#EEF8FC" stroke-width="1"/>
<line x1="905.5" y1="297.7" x2="905.5" y2="351.2" stroke="#EEF8FC" stroke-width="1"/>
<line x1="914.5" y1="297.7" x2="914.5" y2="351.2" stroke="#EEF8FC" stroke-width="1"/>
<line x1="923.5" y1="299.4" x2="923.5" y2="351.2" stroke="#EEF8FC" stroke-width="1"/>
<line x1="933.5" y1="307.8" x2="933.5" y2="351.2" stroke="#EEF8FC" stroke-width="1"/>
<line x1="942.5" y1="307.8" x2="942.5" y2="351.2" stroke="#EEF8FC" stroke-width="1"/>
<line x1="951.5" y1="310.7" x2="951.5" y2="351.2" stroke="#EEF8FC" stroke-width="1"/>
<line x1="960.5" y1="302.6" x2="960.5" y2="351.2" stroke="#EEF8FC" stroke-width="1"/>
<line x1="970.5" y1="302.6" x2="970.5" y2="351.2" stroke="#EEF8FC" stroke-width="1"/>
<line x1="979.5" y1="316.1" x2="979.5" y2="351.2" stroke="#EEF8FC" stroke-width="1"/>
<line x1="988.5" y1="332.8" x2="988.5" y2="351.2" stroke="#EEF8FC" stroke-width="1"/>
<line x1="997.5" y1="332.8" x2="997.5" y2="351.2" stroke="#EEF8FC" stroke-width="1"/>
<line x1="1007.5" y1="297.2" x2="1007.5" y2="351.2" stroke="#EEF8FC" stroke-width="1"/>
<line x1="1016.5" y1="295.2" x2="1016.5" y2="351.2" stroke="#EEF8FC" stroke-width="1"/>
<line x1="1025.5" y1="295.2" x2="1025.5" y2="351.2" stroke="#EEF8FC" stroke-width="1"/>
<line x1="1034.5" y1="343.8" x2="1034.5" y2="351.2" stroke="#EEF8FC" stroke-width="1"/>
<line x1="1044.5" y1="334.8" x2="1044.5" y2="351.2" stroke="#EEF8FC" stroke-width="1"/>
<line x1="1053.5" y1="278.5" x2="1053.5" y2="351.2" stroke="#EEF8FC" stroke-width="1"/>
<line x1="1062.5" y1="278.5" x2="1062.5" y2="351.2" stroke="#EEF8FC" stroke-width="1"/>
<line x1="1071.5" y1="304.5" x2="1071.5" y2="351.2" stroke="#EEF8FC" stroke-width="1"/>
<line x1="1081.5" y1="324.6" x2="1081.5" y2="351.2" stroke="#EEF8FC" stroke-width="1"/>
<line x1="1090.5" y1="314.5" x2="1090.5" y2="351.2" stroke="#EEF8FC" stroke-width="1"/>
<line x1="1099.5" y1="314.5" x2="1099.5" y2="351.2" stroke="#EEF8FC" stroke-width="1"/>
<line x1="1109.5" y1="296" x2="1109.5" y2="351.2" stroke="#EEF8FC" stroke-width="1"/>
<line x1="1118.5" y1="296" x2="1118.5" y2="351.2" stroke="#EEF8FC" stroke-width="1"/>
<line x1="1127.5" y1="322.6" x2="1127.5" y2="351.2" stroke="#EEF8FC" stroke-width="1"/>
<line x1="1136.5" y1="275.7" x2="1136.5" y2="351.2" stroke="#EEF8FC" stroke-width="1"/>
<line x1="1146.5" y1="275.7" x2="1146.5" y2="351.2" stroke="#EEF8FC" stroke-width="1"/>
<line x1="1155.5" y1="316.3" x2="1155.5" y2="351.2" stroke="#EEF8FC" stroke-width="1"/>
<line x1="1164.5" y1="300.9" x2="1164.5" y2="351.2" stroke="#EEF8FC" stroke-width="1"/>
<line x1="1173.5" y1="300.9" x2="1173.5" y2="351.2" stroke="#EEF8FC" stroke-width="1"/>
<line x1="1183.5" y1="311.6" x2="1183.5" y2="351.2" stroke="#EEF8FC" stroke-width="1"/>
<line x1="1192.5" y1="294.6" x2="1192.5" y2="351.2" stroke="#EEF8FC" stroke-width="1"/>
<line x1="1201.5" y1="280.6" x2="1201.5" y2="351.2" stroke="#EEF8FC" stroke-width="1"/>
<line x1="1210.5" y1="280.6" x2="1210.5" y2="351.2" stroke="#EEF8FC" stroke-width="1"/>
<line x1="1220.5" y1="315.3" x2="1220.5" y2="351.2" stroke="#EEF8FC" stroke-width="1"/>
<line x1="1229.5" y1="284" x2="1229.5" y2="351.2" stroke="#EEF8FC" stroke-width="1"/>
<line x1="1238.5" y1="284" x2="1238.5" y2="351.2" stroke="#EEF8FC" stroke-width="1"/>
<line x1="1247.5" y1="313.6" x2="1247.5" y2="351.2" stroke="#EEF8FC" stroke-width="1"/>
<line x1="1257.5" y1="307" x2="1257.5" y2="351.2" stroke="#EEF8FC" stroke-width="1"/>
<line x1="1266.5" y1="307" x2="1266.5" y2="351.2" stroke="#EEF8FC" stroke-width="1"/>
<line x1="1275.5" y1="308.2" x2="1275.5" y2="351.2" stroke="#EEF8FC" stroke-width="1"/>
<rect x="737.9" y="273.6" width="547.7" height="77.6" fill="none" stroke="#000" stroke-width="2.2"/>
<rect x="736.8" y="269.6" width="549.9" height="5.1" fill="#000"/>
<line x1="730.4" y1="193.9" x2="738.5" y2="193.9" stroke="#000" stroke-width="2.2"/>
<text x="725" y="200.5" font-size="18.5" text-anchor="end">200</text>
<line x1="730.4" y1="232.3" x2="738.5" y2="232.3" stroke="#000" stroke-width="2.2"/>
<text x="725" y="238.9" font-size="18.5" text-anchor="end">100</text>
<line x1="730.4" y1="270.7" x2="738.5" y2="270.7" stroke="#000" stroke-width="2.2"/>
<text x="728" y="277.3" font-size="18.5" text-anchor="end">0</text>
<line x1="730.4" y1="297.9" x2="738.5" y2="297.9" stroke="#000" stroke-width="2.2"/>
<text x="725" y="304.5" font-size="18.5" text-anchor="end">100</text>
<line x1="730.4" y1="324.3" x2="738.5" y2="324.3" stroke="#000" stroke-width="2.2"/>
<text x="726.1" y="330.9" font-size="18.5" text-anchor="end">50</text>
<line x1="730.4" y1="350.6" x2="738.5" y2="350.6" stroke="#000" stroke-width="2.2"/>
<text x="728" y="357.2" font-size="18.5" text-anchor="end">0</text>
<rect x="738.5" y="358.6" width="9.6" height="46" fill="#3050a8"/>
<rect x="747.8" y="358.6" width="9.6" height="46" fill="#f8e0d8"/>
<rect x="757" y="358.6" width="9.6" height="46" fill="#f4e4e4"/>
<rect x="766.3" y="358.6" width="9.6" height="46" fill="#a890d8"/>
<rect x="775.6" y="358.6" width="9.6" height="46" fill="#c8b0e8"/>
<rect x="784.8" y="358.6" width="9.6" height="46" fill="#8870c8"/>
<rect x="794.1" y="358.6" width="9.6" height="46" fill="#7a60c0"/>
<rect x="803.3" y="358.6" width="9.6" height="46" fill="#8068c4"/>
<rect x="812.6" y="358.6" width="9.6" height="46" fill="#f0e8ec"/>
<rect x="821.9" y="358.6" width="9.6" height="46" fill="#f8e8e8"/>
<rect x="831.1" y="358.6" width="9.6" height="46" fill="#7860c0"/>
<rect x="840.4" y="358.6" width="9.6" height="46" fill="#f0e8f0"/>
<rect x="849.7" y="358.6" width="9.6" height="46" fill="#9078d0"/>
<rect x="858.9" y="358.6" width="9.6" height="46" fill="#d8c8f0"/>
<rect x="868.2" y="358.6" width="9.6" height="46" fill="#f0e4e8"/>
<rect x="877.4" y="358.6" width="9.6" height="46" fill="#f4a088"/>
<rect x="886.7" y="358.6" width="9.6" height="46" fill="#6850b8"/>
<rect x="896" y="358.6" width="9.6" height="46" fill="#efe6f0"/>
<rect x="905.2" y="358.6" width="9.6" height="46" fill="#f0e8f0"/>
<rect x="914.5" y="358.6" width="9.6" height="46" fill="#f4a080"/>
<rect x="923.8" y="358.6" width="9.6" height="46" fill="#c8b0e8"/>
<rect x="933" y="358.6" width="9.6" height="46" fill="#f8b8a0"/>
<rect x="942.3" y="358.6" width="9.6" height="46" fill="#c0a8e0"/>
<rect x="951.5" y="358.6" width="9.6" height="46" fill="#f8c0a8"/>
<rect x="960.8" y="358.6" width="9.6" height="46" fill="#c8b0e8"/>
<rect x="970.1" y="358.6" width="9.6" height="46" fill="#5e50b4"/>
<rect x="979.3" y="358.6" width="9.6" height="46" fill="#3a4aa8"/>
<rect x="988.6" y="358.6" width="9.6" height="46" fill="#4448aa"/>
<rect x="997.9" y="358.6" width="9.6" height="46" fill="#b8a0e0"/>
<rect x="1007.1" y="358.6" width="9.6" height="46" fill="#f0e8f0"/>
<rect x="1016.4" y="358.6" width="9.6" height="46" fill="#5a48b0"/>
<rect x="1025.6" y="358.6" width="9.6" height="46" fill="#ecebf0"/>
<rect x="1034.9" y="358.6" width="9.6" height="46" fill="#5048b0"/>
<rect x="1044.2" y="358.6" width="9.6" height="46" fill="#d0c0f0"/>
<rect x="1053.4" y="358.6" width="9.6" height="46" fill="#a890d8"/>
<rect x="1062.7" y="358.6" width="9.6" height="46" fill="#f4e8ec"/>
<rect x="1072" y="358.6" width="9.6" height="46" fill="#4848a8"/>
<rect x="1081.2" y="358.6" width="9.6" height="46" fill="#6a58b8"/>
<rect x="1090.5" y="358.6" width="9.6" height="46" fill="#f0e6f0"/>
<rect x="1099.7" y="358.6" width="9.6" height="46" fill="#5048b0"/>
<rect x="1109" y="358.6" width="9.6" height="46" fill="#f07850"/>
<rect x="1118.3" y="358.6" width="9.6" height="46" fill="#b8b8b8"/>
<rect x="1127.5" y="358.6" width="9.6" height="46" fill="#b8a0e0"/>
<rect x="1136.8" y="358.6" width="9.6" height="46" fill="#7860c0"/>
<rect x="1146.1" y="358.6" width="9.6" height="46" fill="#3050a8"/>
<rect x="1155.3" y="358.6" width="9.6" height="46" fill="#6a58b8"/>
<rect x="1164.6" y="358.6" width="9.6" height="46" fill="#5a48b0"/>
<rect x="1173.8" y="358.6" width="9.6" height="46" fill="#d0c0f0"/>
<rect x="1183.1" y="358.6" width="9.6" height="46" fill="#f8c8b8"/>
<rect x="1192.4" y="358.6" width="9.6" height="46" fill="#f8d0c0"/>
<rect x="1201.6" y="358.6" width="9.6" height="46" fill="#f8c8b8"/>
<rect x="1210.9" y="358.6" width="9.6" height="46" fill="#f8d8cc"/>
<rect x="1220.2" y="358.6" width="18.9" height="46" fill="#b8a0e0"/>
<rect x="1238.7" y="358.6" width="9.6" height="46" fill="#b098e0"/>
<rect x="1247.9" y="358.6" width="9.6" height="46" fill="#8870c8"/>
<rect x="1257.2" y="358.6" width="9.6" height="46" fill="#e03020"/>
<rect x="1266.5" y="358.6" width="9.6" height="46" fill="#f8b098"/>
<rect x="1275.7" y="358.6" width="9.3" height="46" fill="#f05030"/>
<text x="1293.5" y="55.6" font-size="16.1">Landmark</text>
<text x="1293.5" y="97.3" font-size="16.1">Day ctDNA detected</text>
<text x="1293.5" y="138.6" font-size="16.1">Histology</text>
<text x="1293.5" y="179.3" font-size="16.1">Lead time (days)</text>
<text x="1293.5" y="240.3" font-size="16.1">Ubiquitous/clonal</text>
<text x="1293.5" y="320" font-size="16.1">Heterogenous/subclonal</text>
<text x="1293.5" y="389" font-size="16.1">Clonal ctDNA levels at detection</text>
<text x="1509.8" y="52.2" font-size="19">Landmark</text>
<rect x="1510.5" y="65" width="21" height="20.4" fill="#8B1C17"/>
<rect x="1510.5" y="88.8" width="21" height="21" fill="#B7E0E9"/>
<rect x="1613" y="64" width="23.6" height="23" fill="#999999"/>
<text x="1539.3" y="83.4" font-size="16">Call</text>
<text x="1539.3" y="107.5" font-size="16">No Call</text>
<text x="1642" y="82" font-size="16">Unevaluable</text>
<text x="1508" y="144.7" font-size="19.2">Day ctDNA detected</text>
<defs><linearGradient id="gday" x1="0" y1="1" x2="0" y2="0"><stop offset="0" stop-color="#fff"/><stop offset="0.35" stop-color="#f6c2b6"/><stop offset="0.7" stop-color="#e08474"/><stop offset="1" stop-color="#d4604f"/></linearGradient><linearGradient id="gct" x1="0" y1="1" x2="0" y2="0"><stop offset="0" stop-color="#2a47a6"/><stop offset="0.25" stop-color="#6a50bc"/><stop offset="0.5" stop-color="#c8b4ea"/><stop offset="0.62" stop-color="#f4eef2"/><stop offset="0.78" stop-color="#f8c4ae"/><stop offset="1" stop-color="#ef6a40"/></linearGradient><linearGradient id="glead" x1="0" y1="1" x2="0" y2="0"><stop offset="0" stop-color="#fff"/><stop offset="0.35" stop-color="#ecd2b2"/><stop offset="0.75" stop-color="#c8902e"/><stop offset="1" stop-color="#b87a18"/></linearGradient></defs>
<rect x="1506.4" y="157.3" width="22.6" height="98.3" fill="url(#gday)"/>
<line x1="1506.4" y1="163.4" x2="1513.5" y2="163.4" stroke="#fff" stroke-width="1.8"/>
<line x1="1522" y1="163.4" x2="1529" y2="163.4" stroke="#fff" stroke-width="1.8"/>
<text x="1533.6" y="168.9" font-size="15.8">1500</text>
<line x1="1506.4" y1="196.3" x2="1513.5" y2="196.3" stroke="#fff" stroke-width="1.8"/>
<line x1="1522" y1="196.3" x2="1529" y2="196.3" stroke="#fff" stroke-width="1.8"/>
<text x="1533.6" y="201.8" font-size="15.8">1000</text>
<line x1="1506.4" y1="230.2" x2="1513.5" y2="230.2" stroke="#fff" stroke-width="1.8"/>
<line x1="1522" y1="230.2" x2="1529" y2="230.2" stroke="#fff" stroke-width="1.8"/>
<text x="1533.6" y="235.7" font-size="15.8">500</text>
<text x="1533.6" y="269.5" font-size="15.8">0</text>
<text x="741.9" y="433.4" font-size="18.6">Barcharts</text>
<rect x="742" y="442.7" width="23" height="22.9" fill="#E8637A"/>
<rect x="742" y="469" width="23" height="23" fill="#5B9BD5"/>
<rect x="742" y="495.5" width="23" height="24.2" fill="#111"/>
<text x="770.8" y="462" font-size="15.5" fill="#E8637A">Filtered from MRD caller</text>
<text x="770.8" y="487" font-size="15.5" fill="#5B9BD5">Detected</text>
<text x="770.8" y="514" font-size="15.5">Undetected</text>
<text x="1003.5" y="432.6" font-size="19.3">ctDNA level (%)</text>
<rect x="1002" y="441" width="22.5" height="108" fill="url(#gct)"/>
<line x1="1002" y1="446.5" x2="1008.5" y2="446.5" stroke="#fff" stroke-width="1.8"/>
<line x1="1018" y1="446.5" x2="1024.5" y2="446.5" stroke="#fff" stroke-width="1.8"/>
<text x="1029" y="452" font-size="15.8">10</text>
<line x1="1002" y1="471" x2="1008.5" y2="471" stroke="#fff" stroke-width="1.8"/>
<line x1="1018" y1="471" x2="1024.5" y2="471" stroke="#fff" stroke-width="1.8"/>
<text x="1029" y="476.5" font-size="15.8">1</text>
<line x1="1002" y1="495" x2="1008.5" y2="495" stroke="#fff" stroke-width="1.8"/>
<line x1="1018" y1="495" x2="1024.5" y2="495" stroke="#fff" stroke-width="1.8"/>
<text x="1029" y="500.5" font-size="15.8">0.1</text>
<line x1="1002" y1="519.7" x2="1008.5" y2="519.7" stroke="#fff" stroke-width="1.8"/>
<line x1="1018" y1="519.7" x2="1024.5" y2="519.7" stroke="#fff" stroke-width="1.8"/>
<text x="1029" y="525.2" font-size="15.8">0.01</text>
<line x1="1002" y1="544" x2="1008.5" y2="544" stroke="#fff" stroke-width="1.8"/>
<line x1="1018" y1="544" x2="1024.5" y2="544" stroke="#fff" stroke-width="1.8"/>
<text x="1029" y="549.5" font-size="15.8">0.001</text>
<text x="1173.4" y="430" font-size="19">Lead time</text>
<rect x="1171.6" y="439.4" width="21.7" height="92.6" fill="url(#glead)"/>
<line x1="1171.6" y1="443.9" x2="1177.6" y2="443.9" stroke="#fff" stroke-width="1.8"/>
<line x1="1187.3" y1="443.9" x2="1193.3" y2="443.9" stroke="#fff" stroke-width="1.8"/>
<text x="1197.8" y="449.4" font-size="15.8">1500</text>
<line x1="1171.6" y1="476.5" x2="1177.6" y2="476.5" stroke="#fff" stroke-width="1.8"/>
<line x1="1187.3" y1="476.5" x2="1193.3" y2="476.5" stroke="#fff" stroke-width="1.8"/>
<text x="1197.8" y="482" font-size="15.8">1000</text>
<line x1="1171.6" y1="507.7" x2="1177.6" y2="507.7" stroke="#fff" stroke-width="1.8"/>
<line x1="1187.3" y1="507.7" x2="1193.3" y2="507.7" stroke="#fff" stroke-width="1.8"/>
<text x="1197.8" y="513.2" font-size="15.8">500</text>
<text x="1197.8" y="545" font-size="15.8">0</text>
<text x="1275.4" y="429.8" font-size="19">Histology</text>
<rect x="1276" y="440.7" width="16.3" height="15.4" fill="#2E53B2"/>
<text x="1299" y="454.9" font-size="16">Collision tumour</text>
<rect x="1276" y="459.9" width="16.3" height="15.4" fill="#6A0F23"/>
<text x="1299" y="474.1" font-size="16">Invasive adenocarcinoma</text>
<rect x="1276" y="479.1" width="16.3" height="15.4" fill="#A6E08A"/>
<text x="1299" y="493.3" font-size="16">Other</text>
<rect x="1276" y="498.3" width="16.3" height="15.4" fill="#1E3562"/>
<text x="1299" y="512.5" font-size="16">Squamous cell carcinoma</text>
<rect x="1276" y="517.5" width="16.3" height="15.4" fill="#7E45BE"/>
<text x="1299" y="531.7" font-size="16">Synchronous adenocarcinomas</text>
<text x="74.7" y="666" font-size="27.5" font-weight="bold">c</text>
<rect x="213.4" y="697.2" width="200.2" height="32.3" fill="#fff" stroke="#333" stroke-width="1.3"/>
<text x="315.9" y="721.6" font-size="19.2" text-anchor="middle">CRUK0022</text>
<rect x="236.6" y="739.4" width="6" height="19.3" fill="#C8EFE2"/>
<rect x="246" y="739.4" width="17" height="19.3" fill="#C8EFE2"/>
<rect x="382.3" y="739.4" width="14.1" height="19.3" fill="#CDD3EB"/>
<circle cx="290" cy="745.9" r="2.8" fill="#000"/>
<line x1="313.4" y1="745.9" x2="321.4" y2="745.9" stroke="#000" stroke-width="1.5"/>
<line x1="317.4" y1="741.9" x2="317.4" y2="749.9" stroke="#000" stroke-width="1.5"/>
<line x1="353.4" y1="745.9" x2="361.4" y2="745.9" stroke="#000" stroke-width="1.5"/>
<line x1="357.4" y1="741.9" x2="357.4" y2="749.9" stroke="#000" stroke-width="1.5"/>
<path d="M372.5 741.7L376.4 748.5L368.6 748.5Z" fill="#000"/>
<circle cx="222.2" cy="862" r="3.3" fill="#D2473A" stroke="#A5332A" stroke-width="1"/>
<circle cx="238" cy="930.5" r="3.6" fill="#000"/>
<circle cx="288.2" cy="930.5" r="3.6" fill="#000"/>
<circle cx="351.4" cy="863.7" r="3.3" fill="#D2473A" stroke="#A5332A" stroke-width="1"/>
<circle cx="376" cy="837.7" r="3.3" fill="#D2473A" stroke="#A5332A" stroke-width="1"/>
<circle cx="382.3" cy="851.4" r="3.3" fill="#D2473A" stroke="#A5332A" stroke-width="1"/>
<circle cx="404.8" cy="930.5" r="3.6" fill="#000"/>
<path d="M222.2 862L238 930.5L288.2 930.5L351.4 863.7L376 837.7L382.3 851.4L404.8 930.5" fill="none" stroke="#B0B0B0" stroke-width="1.1"/>
<line x1="213.4" y1="940" x2="413.6" y2="940" stroke="#111" stroke-width="1.8"/>
<line x1="222.2" y1="940" x2="222.2" y2="943.2" stroke="#111" stroke-width="1.3"/>
<text x="223.7" y="961.2" font-size="16" text-anchor="middle" fill="#4D4D4D">0</text>
<line x1="276" y1="940" x2="276" y2="943.2" stroke="#111" stroke-width="1.3"/>
<text x="274" y="961.2" font-size="16" text-anchor="middle" fill="#4D4D4D">200</text>
<line x1="329.7" y1="940" x2="329.7" y2="943.2" stroke="#111" stroke-width="1.3"/>
<text x="327.7" y="961.2" font-size="16" text-anchor="middle" fill="#4D4D4D">400</text>
<line x1="382.3" y1="940" x2="382.3" y2="943.2" stroke="#111" stroke-width="1.3"/>
<text x="380.3" y="961.2" font-size="16" text-anchor="middle" fill="#4D4D4D">600</text>
<line x1="213.4" y1="729.5" x2="213.4" y2="940.9" stroke="#111" stroke-width="1.8"/>
<line x1="209.6" y1="735.5" x2="213.4" y2="735.5" stroke="#111" stroke-width="1.3"/>
<text x="205.7" y="741.3" font-size="16" text-anchor="end" fill="#4D4D4D">100</text>
<line x1="209.6" y1="768" x2="213.4" y2="768" stroke="#111" stroke-width="1.3"/>
<text x="205.7" y="773.8" font-size="16" text-anchor="end" fill="#4D4D4D">10</text>
<line x1="209.6" y1="800.6" x2="213.4" y2="800.6" stroke="#111" stroke-width="1.3"/>
<text x="205.7" y="806.4" font-size="16" text-anchor="end" fill="#4D4D4D">1</text>
<line x1="209.6" y1="833.1" x2="213.4" y2="833.1" stroke="#111" stroke-width="1.3"/>
<text x="205.7" y="838.9" font-size="16" text-anchor="end" fill="#4D4D4D">0.1</text>
<line x1="209.6" y1="865.6" x2="213.4" y2="865.6" stroke="#111" stroke-width="1.3"/>
<text x="205.7" y="871.4" font-size="16" text-anchor="end" fill="#4D4D4D">0.01</text>
<line x1="209.6" y1="898.1" x2="213.4" y2="898.1" stroke="#111" stroke-width="1.3"/>
<text x="205.7" y="903.9" font-size="16" text-anchor="end" fill="#4D4D4D">0.001</text>
<line x1="209.6" y1="930.7" x2="213.4" y2="930.7" stroke="#111" stroke-width="1.3"/>
<text x="205.7" y="936.5" font-size="16" text-anchor="end" fill="#4D4D4D">Undetected</text>
<text x="234.9" y="795.2" font-size="18.9">L-t: 558</text>
<rect x="421.6" y="697.2" width="200.2" height="32.3" fill="#fff" stroke="#333" stroke-width="1.3"/>
<text x="524.1" y="721.6" font-size="19.2" text-anchor="middle">CRUK0086</text>
<rect x="449.8" y="739.4" width="7" height="19.3" fill="#FCD3C3"/>
<circle cx="440.3" cy="745.9" r="2.8" fill="#000"/>
<line x1="471" y1="745.9" x2="479" y2="745.9" stroke="#000" stroke-width="1.5"/>
<line x1="475" y1="741.9" x2="475" y2="749.9" stroke="#000" stroke-width="1.5"/>
<circle cx="488.4" cy="745.9" r="2.8" fill="#000"/>
<line x1="518.8" y1="745.9" x2="526.8" y2="745.9" stroke="#000" stroke-width="1.5"/>
<line x1="522.8" y1="741.9" x2="522.8" y2="749.9" stroke="#000" stroke-width="1.5"/>
<circle cx="613" cy="745.9" r="2.8" fill="#000"/>
<circle cx="430.4" cy="849.6" r="3.3" fill="#D2473A" stroke="#A5332A" stroke-width="1"/>
<circle cx="463.8" cy="930.5" r="3.6" fill="#000"/>
<circle cx="480.3" cy="930.5" r="3.6" fill="#000"/>
<circle cx="504.2" cy="930.5" r="3.6" fill="#000"/>
<circle cx="528" cy="930.5" r="3.6" fill="#000"/>
<path d="M430.4 849.6L463.8 930.5L480.3 930.5L504.2 930.5L528 930.5" fill="none" stroke="#B0B0B0" stroke-width="1.1"/>
<line x1="421.6" y1="940" x2="621.8" y2="940" stroke="#111" stroke-width="1.8"/>
<line x1="430.4" y1="940" x2="430.4" y2="943.2" stroke="#111" stroke-width="1.3"/>
<text x="431.9" y="961.2" font-size="16" text-anchor="middle" fill="#4D4D4D">0</text>
<line x1="482.8" y1="940" x2="482.8" y2="943.2" stroke="#111" stroke-width="1.3"/>
<text x="480.8" y="961.2" font-size="16" text-anchor="middle" fill="#4D4D4D">200</text>
<line x1="535.3" y1="940" x2="535.3" y2="943.2" stroke="#111" stroke-width="1.3"/>
<text x="533.3" y="961.2" font-size="16" text-anchor="middle" fill="#4D4D4D">400</text>
<line x1="587.7" y1="940" x2="587.7" y2="943.2" stroke="#111" stroke-width="1.3"/>
<text x="585.7" y="961.2" font-size="16" text-anchor="middle" fill="#4D4D4D">600</text>
<text x="441" y="798" font-size="18.9">L-t: NA</text>
<rect x="629.8" y="697.2" width="200.2" height="32.3" fill="#fff" stroke="#333" stroke-width="1.3"/>
<text x="732.3" y="721.6" font-size="19.2" text-anchor="middle">CRUK0227</text>
<rect x="656" y="739.4" width="28" height="19.3" fill="#C8EFE2"/>
<path d="M801.9 741.7L805.8 748.5L798 748.5Z" fill="#000"/>
<circle cx="638.1" cy="869" r="3.3" fill="#D2473A" stroke="#A5332A" stroke-width="1"/>
<circle cx="660" cy="821.8" r="3.3" fill="#D2473A" stroke="#A5332A" stroke-width="1"/>
<circle cx="743" cy="831.2" r="3.3" fill="#D2473A" stroke="#A5332A" stroke-width="1"/>
<circle cx="799" cy="784" r="3.3" fill="#D2473A" stroke="#A5332A" stroke-width="1"/>
<circle cx="821" cy="777.4" r="3.3" fill="#D2473A" stroke="#A5332A" stroke-width="1"/>
<path d="M638.1 869L660 821.8L743 831.2L799 784L821 777.4" fill="none" stroke="#B0B0B0" stroke-width="1.1"/>
<line x1="629.8" y1="940" x2="830" y2="940" stroke="#111" stroke-width="1.8"/>
<line x1="638.1" y1="940" x2="638.1" y2="943.2" stroke="#111" stroke-width="1.3"/>
<text x="639.6" y="961.2" font-size="16" text-anchor="middle" fill="#4D4D4D">0</text>
<line x1="705.4" y1="940" x2="705.4" y2="943.2" stroke="#111" stroke-width="1.3"/>
<text x="703.4" y="961.2" font-size="16" text-anchor="middle" fill="#4D4D4D">200</text>
<line x1="773" y1="940" x2="773" y2="943.2" stroke="#111" stroke-width="1.3"/>
<text x="771" y="961.2" font-size="16" text-anchor="middle" fill="#4D4D4D">400</text>
<text x="650" y="794.7" font-size="18.9">L-t: 483</text>
<rect x="837.9" y="697.2" width="200.2" height="32.3" fill="#fff" stroke="#333" stroke-width="1.3"/>
<text x="940.4" y="721.6" font-size="19.2" text-anchor="middle">CRUK0242</text>
<rect x="865" y="739.4" width="16.8" height="19.3" fill="#C8EFE2"/>
<rect x="895" y="739.4" width="15.9" height="19.3" fill="#FCD3C3"/>
<rect x="979.6" y="739.4" width="42" height="19.3" fill="#C8EFE2"/>
<circle cx="944.2" cy="745.9" r="2.8" fill="#000"/>
<circle cx="946.6" cy="745.9" r="2.8" fill="#000"/>
<path d="M965.3 741.7L969.2 748.5L961.4 748.5Z" fill="#000"/>
<circle cx="846.4" cy="862.6" r="3.3" fill="#D2473A" stroke="#A5332A" stroke-width="1"/>
<circle cx="859.2" cy="844.5" r="3.3" fill="#D2473A" stroke="#A5332A" stroke-width="1"/>
<circle cx="917.5" cy="930.5" r="3.6" fill="#000"/>
<circle cx="942.3" cy="822.4" r="3.3" fill="#D2473A" stroke="#A5332A" stroke-width="1"/>
<circle cx="967.6" cy="775.2" r="3.3" fill="#D2473A" stroke="#A5332A" stroke-width="1"/>
<circle cx="997.7" cy="852.5" r="3.3" fill="#D2473A" stroke="#A5332A" stroke-width="1"/>
<circle cx="1014.7" cy="930.5" r="3.6" fill="#000"/>
<circle cx="1029.4" cy="857" r="3.3" fill="#D2473A" stroke="#A5332A" stroke-width="1"/>
<path d="M846.4 862.6L859.2 844.5L917.5 930.5L942.3 822.4L967.6 775.2L997.7 852.5L1014.7 930.5L1029.4 857" fill="none" stroke="#B0B0B0" stroke-width="1.1"/>
<line x1="837.9" y1="940" x2="1038.1" y2="940" stroke="#111" stroke-width="1.8"/>
<line x1="846.4" y1="940" x2="846.4" y2="943.2" stroke="#111" stroke-width="1.3"/>
<text x="847.9" y="961.2" font-size="16" text-anchor="middle" fill="#4D4D4D">0</text>
<line x1="885.9" y1="940" x2="885.9" y2="943.2" stroke="#111" stroke-width="1.3"/>
<text x="883.9" y="961.2" font-size="16" text-anchor="middle" fill="#4D4D4D">100</text>
<line x1="925.5" y1="940" x2="925.5" y2="943.2" stroke="#111" stroke-width="1.3"/>
<text x="923.5" y="961.2" font-size="16" text-anchor="middle" fill="#4D4D4D">200</text>
<line x1="965" y1="940" x2="965" y2="943.2" stroke="#111" stroke-width="1.3"/>
<text x="963" y="961.2" font-size="16" text-anchor="middle" fill="#4D4D4D">300</text>
<line x1="1004.6" y1="940" x2="1004.6" y2="943.2" stroke="#111" stroke-width="1.3"/>
<text x="1002.6" y="961.2" font-size="16" text-anchor="middle" fill="#4D4D4D">400</text>
<text x="857" y="790" font-size="18.9">L-t: 298</text>
<rect x="1046.1" y="697.2" width="200.2" height="32.3" fill="#fff" stroke="#333" stroke-width="1.3"/>
<text x="1148.6" y="721.6" font-size="19.2" text-anchor="middle">CRUK0245</text>
<rect x="1064" y="739.4" width="7.5" height="19.3" fill="#C8EFE2"/>
<rect x="1072.5" y="739.4" width="8.1" height="19.3" fill="#C8EFE2"/>
<line x1="1125.3" y1="745.9" x2="1133.3" y2="745.9" stroke="#000" stroke-width="1.5"/>
<line x1="1129.3" y1="741.9" x2="1129.3" y2="749.9" stroke="#000" stroke-width="1.5"/>
<line x1="1203.1" y1="745.9" x2="1211.1" y2="745.9" stroke="#000" stroke-width="1.5"/>
<line x1="1207.1" y1="741.9" x2="1207.1" y2="749.9" stroke="#000" stroke-width="1.5"/>
<circle cx="1218.3" cy="745.9" r="2.8" fill="#000"/>
<line x1="1214.3" y1="745.9" x2="1222.3" y2="745.9" stroke="#000" stroke-width="1.5"/>
<line x1="1218.3" y1="741.9" x2="1218.3" y2="749.9" stroke="#000" stroke-width="1.5"/>
<circle cx="1233.6" cy="745.9" r="2.8" fill="#000"/>
<path d="M1237.8 741.7L1241.7 748.5L1233.9 748.5Z" fill="#000"/>
<circle cx="1054.8" cy="812" r="3.3" fill="#D2473A" stroke="#A5332A" stroke-width="1"/>
<circle cx="1067.3" cy="930.5" r="3.6" fill="#000"/>
<path d="M1054.8 812L1067.3 930.5" fill="none" stroke="#B0B0B0" stroke-width="1.1"/>
<line x1="1046.1" y1="940" x2="1246.3" y2="940" stroke="#111" stroke-width="1.8"/>
<line x1="1054.8" y1="940" x2="1054.8" y2="943.2" stroke="#111" stroke-width="1.3"/>
<text x="1056.3" y="961.2" font-size="16" text-anchor="middle" fill="#4D4D4D">0</text>
<line x1="1099.3" y1="940" x2="1099.3" y2="943.2" stroke="#111" stroke-width="1.3"/>
<text x="1097.3" y="961.2" font-size="16" text-anchor="middle" fill="#4D4D4D">250</text>
<line x1="1143.8" y1="940" x2="1143.8" y2="943.2" stroke="#111" stroke-width="1.3"/>
<text x="1141.8" y="961.2" font-size="16" text-anchor="middle" fill="#4D4D4D">500</text>
<line x1="1188.4" y1="940" x2="1188.4" y2="943.2" stroke="#111" stroke-width="1.3"/>
<text x="1186.4" y="961.2" font-size="16" text-anchor="middle" fill="#4D4D4D">750</text>
<line x1="1233" y1="940" x2="1233" y2="943.2" stroke="#111" stroke-width="1.3"/>
<text x="1231" y="961.2" font-size="16" text-anchor="middle" fill="#4D4D4D">1000</text>
<text x="1068.6" y="790.7" font-size="18.9">L-t: 1022</text>
<rect x="1254.3" y="697.2" width="200.2" height="32.3" fill="#fff" stroke="#333" stroke-width="1.3"/>
<text x="1356.8" y="721.6" font-size="19.2" text-anchor="middle">CRUK0368</text>
<rect x="1348.3" y="739.4" width="16.5" height="19.3" fill="#C8EFE2"/>
<rect x="1371.7" y="739.4" width="51.2" height="19.3" fill="#C8EFE2"/>
<circle cx="1302.2" cy="745.9" r="2.8" fill="#000"/>
<path d="M1430 741.7L1433.9 748.5L1426.1 748.5Z" fill="#000"/>
<circle cx="1263" cy="930.5" r="3.6" fill="#000"/>
<circle cx="1333.1" cy="869.8" r="3.3" fill="#D2473A" stroke="#A5332A" stroke-width="1"/>
<circle cx="1435.4" cy="821.3" r="3.3" fill="#D2473A" stroke="#A5332A" stroke-width="1"/>
<circle cx="1445.5" cy="846.3" r="3.3" fill="#D2473A" stroke="#A5332A" stroke-width="1"/>
<path d="M1263 930.5L1333.1 869.8L1435.4 821.3L1445.5 846.3" fill="none" stroke="#B0B0B0" stroke-width="1.1"/>
<line x1="1254.3" y1="940" x2="1454.5" y2="940" stroke="#111" stroke-width="1.8"/>
<line x1="1263" y1="940" x2="1263" y2="943.2" stroke="#111" stroke-width="1.3"/>
<text x="1264.5" y="961.2" font-size="16" text-anchor="middle" fill="#4D4D4D">0</text>
<line x1="1302.2" y1="940" x2="1302.2" y2="943.2" stroke="#111" stroke-width="1.3"/>
<text x="1300.2" y="961.2" font-size="16" text-anchor="middle" fill="#4D4D4D">50</text>
<line x1="1342.2" y1="940" x2="1342.2" y2="943.2" stroke="#111" stroke-width="1.3"/>
<text x="1340.2" y="961.2" font-size="16" text-anchor="middle" fill="#4D4D4D">100</text>
<line x1="1383" y1="940" x2="1383" y2="943.2" stroke="#111" stroke-width="1.3"/>
<text x="1381" y="961.2" font-size="16" text-anchor="middle" fill="#4D4D4D">150</text>
<line x1="1423.7" y1="940" x2="1423.7" y2="943.2" stroke="#111" stroke-width="1.3"/>
<text x="1421.7" y="961.2" font-size="16" text-anchor="middle" fill="#4D4D4D">200</text>
<text x="1260.4" y="792.5" font-size="18.9">L-t: 119</text>
<rect x="213.4" y="975.1" width="200.2" height="32.3" fill="#fff" stroke="#333" stroke-width="1.3"/>
<text x="315.9" y="999.5" font-size="19.2" text-anchor="middle">CRUK0379</text>
<rect x="246.1" y="1017.3" width="42.1" height="19.3" fill="#C8EFE2"/>
<rect x="369" y="1017.3" width="35.8" height="19.3" fill="#C8EFE2"/>
<rect x="291.2" y="1020.8" width="6" height="6" fill="#000"/>
<circle cx="221.5" cy="1095.2" r="3.3" fill="#D2473A" stroke="#A5332A" stroke-width="1"/>
<circle cx="245.4" cy="1208.6" r="3.6" fill="#000"/>
<circle cx="319.8" cy="1127.8" r="3.3" fill="#D2473A" stroke="#A5332A" stroke-width="1"/>
<circle cx="390" cy="1071.7" r="3.3" fill="#D2473A" stroke="#A5332A" stroke-width="1"/>
<path d="M221.5 1095.2L245.4 1208.6L319.8 1127.8L390 1071.7" fill="none" stroke="#B0B0B0" stroke-width="1.1"/>
<line x1="213.4" y1="1217.9" x2="413.6" y2="1217.9" stroke="#111" stroke-width="1.8"/>
<line x1="221.5" y1="1217.9" x2="221.5" y2="1221.1" stroke="#111" stroke-width="1.3"/>
<text x="220.5" y="1239.1" font-size="16" text-anchor="middle" fill="#4D4D4D">0</text>
<line x1="271.7" y1="1217.9" x2="271.7" y2="1221.1" stroke="#111" stroke-width="1.3"/>
<text x="266.4" y="1239.1" font-size="16" text-anchor="middle" fill="#4D4D4D">100</text>
<line x1="321.6" y1="1217.9" x2="321.6" y2="1221.1" stroke="#111" stroke-width="1.3"/>
<text x="316.3" y="1239.1" font-size="16" text-anchor="middle" fill="#4D4D4D">200</text>
<line x1="371.8" y1="1217.9" x2="371.8" y2="1221.1" stroke="#111" stroke-width="1.3"/>
<text x="366.5" y="1239.1" font-size="16" text-anchor="middle" fill="#4D4D4D">300</text>
<line x1="213.4" y1="1007.4" x2="213.4" y2="1218.8" stroke="#111" stroke-width="1.8"/>
<line x1="209.6" y1="1013.4" x2="213.4" y2="1013.4" stroke="#111" stroke-width="1.3"/>
<text x="205.7" y="1019.2" font-size="16" text-anchor="end" fill="#4D4D4D">100</text>
<line x1="209.6" y1="1045.9" x2="213.4" y2="1045.9" stroke="#111" stroke-width="1.3"/>
<text x="205.7" y="1051.7" font-size="16" text-anchor="end" fill="#4D4D4D">10</text>
<line x1="209.6" y1="1078.5" x2="213.4" y2="1078.5" stroke="#111" stroke-width="1.3"/>
<text x="205.7" y="1084.3" font-size="16" text-anchor="end" fill="#4D4D4D">1</text>
<line x1="209.6" y1="1111" x2="213.4" y2="1111" stroke="#111" stroke-width="1.3"/>
<text x="205.7" y="1116.8" font-size="16" text-anchor="end" fill="#4D4D4D">0.1</text>
<line x1="209.6" y1="1143.5" x2="213.4" y2="1143.5" stroke="#111" stroke-width="1.3"/>
<text x="205.7" y="1149.3" font-size="16" text-anchor="end" fill="#4D4D4D">0.01</text>
<line x1="209.6" y1="1176" x2="213.4" y2="1176" stroke="#111" stroke-width="1.3"/>
<text x="205.7" y="1181.8" font-size="16" text-anchor="end" fill="#4D4D4D">0.001</text>
<line x1="209.6" y1="1208.6" x2="213.4" y2="1208.6" stroke="#111" stroke-width="1.3"/>
<text x="205.7" y="1214.4" font-size="16" text-anchor="end" fill="#4D4D4D">Undetected</text>
<text x="237.3" y="1071.7" font-size="18.9">L-t: 143</text>
<rect x="421.6" y="975.1" width="200.2" height="32.3" fill="#fff" stroke="#333" stroke-width="1.3"/>
<text x="524.1" y="999.5" font-size="19.2" text-anchor="middle">CRUK0385</text>
<rect x="463" y="1017.3" width="31.7" height="19.3" fill="#C8EFE2"/>
<rect x="498.2" y="1017.3" width="10.5" height="19.3" fill="#C8EFE2"/>
<circle cx="529.8" cy="1023.8" r="2.8" fill="#000"/>
<path d="M613 1019.6L616.9 1026.4L609.1 1026.4Z" fill="#000"/>
<circle cx="430.4" cy="1138" r="3.3" fill="#D2473A" stroke="#A5332A" stroke-width="1"/>
<circle cx="484.9" cy="1208.6" r="3.6" fill="#000"/>
<circle cx="523.5" cy="1208.6" r="3.6" fill="#000"/>
<circle cx="570.2" cy="1139" r="3.3" fill="#D2473A" stroke="#A5332A" stroke-width="1"/>
<circle cx="613" cy="1125" r="3.3" fill="#D2473A" stroke="#A5332A" stroke-width="1"/>
<path d="M430.4 1138L484.9 1208.6L523.5 1208.6L570.2 1139L613 1125" fill="none" stroke="#B0B0B0" stroke-width="1.1"/>
<line x1="421.6" y1="1217.9" x2="621.8" y2="1217.9" stroke="#111" stroke-width="1.8"/>
<line x1="429.7" y1="1217.9" x2="429.7" y2="1221.1" stroke="#111" stroke-width="1.3"/>
<text x="428.7" y="1239.1" font-size="16" text-anchor="middle" fill="#4D4D4D">0</text>
<line x1="480.5" y1="1217.9" x2="480.5" y2="1221.1" stroke="#111" stroke-width="1.3"/>
<text x="475.2" y="1239.1" font-size="16" text-anchor="middle" fill="#4D4D4D">100</text>
<line x1="531.3" y1="1217.9" x2="531.3" y2="1221.1" stroke="#111" stroke-width="1.3"/>
<text x="526" y="1239.1" font-size="16" text-anchor="middle" fill="#4D4D4D">200</text>
<line x1="582.1" y1="1217.9" x2="582.1" y2="1221.1" stroke="#111" stroke-width="1.3"/>
<text x="576.8" y="1239.1" font-size="16" text-anchor="middle" fill="#4D4D4D">300</text>
<text x="449.8" y="1067" font-size="18.9">L-t: 357</text>
<rect x="629.8" y="975.1" width="200.2" height="32.3" fill="#fff" stroke="#333" stroke-width="1.3"/>
<text x="732.3" y="999.5" font-size="19.2" text-anchor="middle">CRUK0484</text>
<rect x="638.6" y="1017.3" width="17.4" height="19.3" fill="#C8EFE2"/>
<rect x="657.3" y="1017.3" width="5.3" height="19.3" fill="#C8EFE2"/>
<rect x="687.1" y="1017.3" width="7.5" height="19.3" fill="#C8EFE2"/>
<rect x="703.9" y="1017.3" width="116.4" height="19.3" fill="#CDD3EB"/>
<path d="M660 1019.6L663.9 1026.4L656.1 1026.4Z" fill="#000"/>
<circle cx="638.1" cy="1100.4" r="3.3" fill="#D2473A" stroke="#A5332A" stroke-width="1"/>
<circle cx="663.4" cy="1059" r="3.3" fill="#D2473A" stroke="#A5332A" stroke-width="1"/>
<circle cx="680.7" cy="1035.4" r="3.3" fill="#D2473A" stroke="#A5332A" stroke-width="1"/>
<circle cx="707.9" cy="1031.4" r="3.3" fill="#D2473A" stroke="#A5332A" stroke-width="1"/>
<circle cx="727.1" cy="1026.6" r="3.3" fill="#D2473A" stroke="#A5332A" stroke-width="1"/>
<circle cx="781.9" cy="1034.6" r="3.3" fill="#D2473A" stroke="#A5332A" stroke-width="1"/>
<circle cx="813.4" cy="1039.4" r="3.3" fill="#D2473A" stroke="#A5332A" stroke-width="1"/>
<path d="M638.1 1100.4L663.4 1059L680.7 1035.4L707.9 1031.4L727.1 1026.6L781.9 1034.6L813.4 1039.4" fill="none" stroke="#B0B0B0" stroke-width="1.1"/>
<line x1="629.8" y1="1217.9" x2="830" y2="1217.9" stroke="#111" stroke-width="1.8"/>
<line x1="678" y1="1217.9" x2="678" y2="1221.1" stroke="#111" stroke-width="1.3"/>
<text x="672.7" y="1239.1" font-size="16" text-anchor="middle" fill="#4D4D4D">200</text>
<line x1="733.2" y1="1217.9" x2="733.2" y2="1221.1" stroke="#111" stroke-width="1.3"/>
<text x="727.9" y="1239.1" font-size="16" text-anchor="middle" fill="#4D4D4D">400</text>
<line x1="787.8" y1="1217.9" x2="787.8" y2="1221.1" stroke="#111" stroke-width="1.3"/>
<text x="782.5" y="1239.1" font-size="16" text-anchor="middle" fill="#4D4D4D">600</text>
<text x="660.8" y="1151.8" font-size="18.9">L-t: 78</text>
<rect x="837.9" y="975.1" width="200.2" height="32.3" fill="#fff" stroke="#333" stroke-width="1.3"/>
<text x="940.4" y="999.5" font-size="19.2" text-anchor="middle">CRUK0617</text>
<rect x="846.4" y="1017.3" width="10.6" height="19.3" fill="#C8EFE2"/>
<rect x="988.4" y="1017.3" width="13.3" height="19.3" fill="#FCD3C3"/>
<circle cx="924.2" cy="1023.8" r="2.8" fill="#000"/>
<path d="M965.7 1019.6L969.6 1026.4L961.8 1026.4Z" fill="#000"/>
<circle cx="846.4" cy="1101.2" r="3.3" fill="#D2473A" stroke="#A5332A" stroke-width="1"/>
<circle cx="950.3" cy="1068.4" r="3.3" fill="#D2473A" stroke="#A5332A" stroke-width="1"/>
<circle cx="981.4" cy="1073.7" r="3.3" fill="#D2473A" stroke="#A5332A" stroke-width="1"/>
<circle cx="1028.8" cy="1158.4" r="3.3" fill="#D2473A" stroke="#A5332A" stroke-width="1"/>
<path d="M846.4 1101.2L950.3 1068.4L981.4 1073.7L1028.8 1158.4" fill="none" stroke="#B0B0B0" stroke-width="1.1"/>
<line x1="837.9" y1="1217.9" x2="1038.1" y2="1217.9" stroke="#111" stroke-width="1.8"/>
<line x1="869.8" y1="1217.9" x2="869.8" y2="1221.1" stroke="#111" stroke-width="1.3"/>
<text x="864.5" y="1239.1" font-size="16" text-anchor="middle" fill="#4D4D4D">100</text>
<line x1="921.8" y1="1217.9" x2="921.8" y2="1221.1" stroke="#111" stroke-width="1.3"/>
<text x="916.5" y="1239.1" font-size="16" text-anchor="middle" fill="#4D4D4D">200</text>
<line x1="973.7" y1="1217.9" x2="973.7" y2="1221.1" stroke="#111" stroke-width="1.3"/>
<text x="968.4" y="1239.1" font-size="16" text-anchor="middle" fill="#4D4D4D">300</text>
<line x1="1025.6" y1="1217.9" x2="1025.6" y2="1221.1" stroke="#111" stroke-width="1.3"/>
<text x="1020.3" y="1239.1" font-size="16" text-anchor="middle" fill="#4D4D4D">400</text>
<text x="852.5" y="1065.2" font-size="18.9">L-t: 228</text>
<rect x="1046.1" y="975.1" width="200.2" height="32.3" fill="#fff" stroke="#333" stroke-width="1.3"/>
<text x="1148.6" y="999.5" font-size="19.2" text-anchor="middle">CRUK0702</text>
<rect x="1058" y="1017.3" width="31.1" height="19.3" fill="#C8EFE2"/>
<rect x="1187.1" y="1017.3" width="12.8" height="19.3" fill="#FCD3C3"/>
<circle cx="1074.7" cy="1023.8" r="2.8" fill="#000"/>
<circle cx="1150.4" cy="1023.8" r="2.8" fill="#000"/>
<path d="M1167.2 1019.6L1171.1 1026.4L1163.3 1026.4Z" fill="#000"/>
<circle cx="1054.8" cy="1092.4" r="3.3" fill="#D2473A" stroke="#A5332A" stroke-width="1"/>
<circle cx="1101.1" cy="1208.5" r="3.6" fill="#000"/>
<circle cx="1140.5" cy="1079.3" r="3.3" fill="#D2473A" stroke="#A5332A" stroke-width="1"/>
<circle cx="1174.4" cy="1079.3" r="3.3" fill="#D2473A" stroke="#A5332A" stroke-width="1"/>
<circle cx="1237.2" cy="1208.5" r="3.6" fill="#000"/>
<path d="M1054.8 1092.4L1101.1 1208.5L1140.5 1079.3L1174.4 1079.3L1237.2 1208.5" fill="none" stroke="#B0B0B0" stroke-width="1.1"/>
<line x1="1046.1" y1="1217.9" x2="1246.3" y2="1217.9" stroke="#111" stroke-width="1.8"/>
<line x1="1076.1" y1="1217.9" x2="1076.1" y2="1221.1" stroke="#111" stroke-width="1.3"/>
<text x="1070.8" y="1239.1" font-size="16" text-anchor="middle" fill="#4D4D4D">100</text>
<line x1="1113.3" y1="1217.9" x2="1113.3" y2="1221.1" stroke="#111" stroke-width="1.3"/>
<text x="1108" y="1239.1" font-size="16" text-anchor="middle" fill="#4D4D4D">200</text>
<line x1="1150.5" y1="1217.9" x2="1150.5" y2="1221.1" stroke="#111" stroke-width="1.3"/>
<text x="1145.2" y="1239.1" font-size="16" text-anchor="middle" fill="#4D4D4D">300</text>
<line x1="1187.7" y1="1217.9" x2="1187.7" y2="1221.1" stroke="#111" stroke-width="1.3"/>
<text x="1182.4" y="1239.1" font-size="16" text-anchor="middle" fill="#4D4D4D">400</text>
<line x1="1225" y1="1217.9" x2="1225" y2="1221.1" stroke="#111" stroke-width="1.3"/>
<text x="1219.7" y="1239.1" font-size="16" text-anchor="middle" fill="#4D4D4D">500</text>
<text x="1068.1" y="1070.5" font-size="18.9">L-t: 302</text>
<rect x="1254.3" y="975.1" width="200.2" height="32.3" fill="#fff" stroke="#333" stroke-width="1.3"/>
<text x="1356.8" y="999.5" font-size="19.2" text-anchor="middle">CRUK0762</text>
<rect x="1273.7" y="1017.3" width="10.1" height="19.3" fill="#FCD3C3"/>
<circle cx="1316.3" cy="1023.8" r="2.8" fill="#000"/>
<line x1="1335" y1="1023.8" x2="1343" y2="1023.8" stroke="#000" stroke-width="1.5"/>
<line x1="1339" y1="1019.8" x2="1339" y2="1027.8" stroke="#000" stroke-width="1.5"/>
<line x1="1343" y1="1023.8" x2="1351" y2="1023.8" stroke="#000" stroke-width="1.5"/>
<line x1="1347" y1="1019.8" x2="1347" y2="1027.8" stroke="#000" stroke-width="1.5"/>
<path d="M1443.4 1019.6L1447.3 1026.4L1439.5 1026.4Z" fill="#000"/>
<circle cx="1263" cy="1132.3" r="3.3" fill="#D2473A" stroke="#A5332A" stroke-width="1"/>
<circle cx="1324.3" cy="1157.9" r="3.3" fill="#D2473A" stroke="#A5332A" stroke-width="1"/>
<circle cx="1338.4" cy="1141.6" r="3.3" fill="#D2473A" stroke="#A5332A" stroke-width="1"/>
<circle cx="1348.8" cy="1136.3" r="3.3" fill="#D2473A" stroke="#A5332A" stroke-width="1"/>
<circle cx="1404.8" cy="1097.7" r="3.3" fill="#D2473A" stroke="#A5332A" stroke-width="1"/>
<circle cx="1442" cy="1064.4" r="3.3" fill="#D2473A" stroke="#A5332A" stroke-width="1"/>
<circle cx="1445.5" cy="1058" r="3.3" fill="#D2473A" stroke="#A5332A" stroke-width="1"/>
<path d="M1263 1132.3L1324.3 1157.9L1338.4 1141.6L1348.8 1136.3L1404.8 1097.7L1442 1064.4L1445.5 1058" fill="none" stroke="#B0B0B0" stroke-width="1.1"/>
<line x1="1254.3" y1="1217.9" x2="1454.5" y2="1217.9" stroke="#111" stroke-width="1.8"/>
<line x1="1256.4" y1="1217.9" x2="1256.4" y2="1221.1" stroke="#111" stroke-width="1.3"/>
<text x="1255.4" y="1239.1" font-size="16" text-anchor="middle" fill="#4D4D4D">0</text>
<line x1="1306.5" y1="1217.9" x2="1306.5" y2="1221.1" stroke="#111" stroke-width="1.3"/>
<text x="1301.2" y="1239.1" font-size="16" text-anchor="middle" fill="#4D4D4D">200</text>
<line x1="1356.3" y1="1217.9" x2="1356.3" y2="1221.1" stroke="#111" stroke-width="1.3"/>
<text x="1351" y="1239.1" font-size="16" text-anchor="middle" fill="#4D4D4D">400</text>
<line x1="1406.4" y1="1217.9" x2="1406.4" y2="1221.1" stroke="#111" stroke-width="1.3"/>
<text x="1401.1" y="1239.1" font-size="16" text-anchor="middle" fill="#4D4D4D">600</text>
<text x="1266.5" y="1069.2" font-size="18.9">L-t: 751</text>
<text x="83.5" y="1013" font-size="19" text-anchor="middle" transform="rotate(-90 83.5 1013)">Clonal ctDNA level (%)</text>
<text x="799.5" y="1269" font-size="19.2" text-anchor="middle">Days after surgery</text>
<text x="1538.6" y="792.2" font-size="19">Scan</text>
<circle cx="1550.3" cy="822.8" r="1.3" fill="#000"/>
<path d="M1550.3 843.3L1554 849.4L1546.6 849.4Z" fill="#000"/>
<rect x="1547.4" y="869.3" width="5.8" height="5.8" fill="#000"/>
<line x1="1546.3" y1="897.5" x2="1554.3" y2="897.5" stroke="#000" stroke-width="1.4"/>
<line x1="1550.3" y1="893.5" x2="1550.3" y2="901.5" stroke="#000" stroke-width="1.4"/>
<text x="1578" y="829.8" font-size="19.1">Equivocal abnormality</text>
<text x="1578" y="855.6" font-size="19.1">Extracranial relapse</text>
<text x="1578" y="880" font-size="19.1">Intracranial relapse</text>
<text x="1578" y="905.3" font-size="19.1">No new abnormality</text>
<text x="1538.6" y="963.8" font-size="19">Treatment</text>
<rect x="1539" y="983.3" width="22.6" height="22.1" fill="#C8EFE2"/>
<rect x="1539" y="1008" width="22.6" height="22" fill="#CDD3EB"/>
<rect x="1539" y="1032.7" width="22.6" height="22.4" fill="#FCD3C3"/>
<text x="1578" y="1002.8" font-size="19.1">Chemotherapy</text>
<text x="1578" y="1026.8" font-size="19.1">Other</text>
<text x="1578" y="1051.6" font-size="19.1">Radiotherapy</text>
<text x="1538.6" y="1111.1" font-size="19.2">ctDNA detected</text>
<circle cx="1549.7" cy="1142.3" r="1.9" fill="#000"/>
<circle cx="1549.7" cy="1166.7" r="1.9" fill="#C8392B"/>
<text x="1578" y="1149" font-size="19.1">No</text>
<text x="1578" y="1173.5" font-size="19.1">Yes</text>
<text x="30.5" y="1427.4" font-size="27.5" font-weight="bold">d</text>
<rect x="107.2" y="1433.5" width="373.3" height="329.8" fill="#fff"/>
<line x1="107.5" y1="1433.5" x2="107.5" y2="1763.3" stroke="#F0F0F0" stroke-width="1.1"/>
<line x1="113.7" y1="1433.5" x2="113.7" y2="1763.3" stroke="#F0F0F0" stroke-width="1.1"/>
<line x1="119.9" y1="1433.5" x2="119.9" y2="1763.3" stroke="#F0F0F0" stroke-width="1.1"/>
<line x1="126.1" y1="1433.5" x2="126.1" y2="1763.3" stroke="#F0F0F0" stroke-width="1.1"/>
<line x1="132.3" y1="1433.5" x2="132.3" y2="1763.3" stroke="#F0F0F0" stroke-width="1.1"/>
<line x1="138.5" y1="1433.5" x2="138.5" y2="1763.3" stroke="#F0F0F0" stroke-width="1.1"/>
<line x1="144.7" y1="1433.5" x2="144.7" y2="1763.3" stroke="#F0F0F0" stroke-width="1.1"/>
<line x1="150.9" y1="1433.5" x2="150.9" y2="1763.3" stroke="#F0F0F0" stroke-width="1.1"/>
<line x1="157.1" y1="1433.5" x2="157.1" y2="1763.3" stroke="#F0F0F0" stroke-width="1.1"/>
<line x1="163.3" y1="1433.5" x2="163.3" y2="1763.3" stroke="#F0F0F0" stroke-width="1.1"/>
<line x1="169.5" y1="1433.5" x2="169.5" y2="1763.3" stroke="#F0F0F0" stroke-width="1.1"/>
<line x1="175.7" y1="1433.5" x2="175.7" y2="1763.3" stroke="#F0F0F0" stroke-width="1.1"/>
<line x1="181.9" y1="1433.5" x2="181.9" y2="1763.3" stroke="#F0F0F0" stroke-width="1.1"/>
<line x1="188.1" y1="1433.5" x2="188.1" y2="1763.3" stroke="#F0F0F0" stroke-width="1.1"/>
<line x1="194.3" y1="1433.5" x2="194.3" y2="1763.3" stroke="#F0F0F0" stroke-width="1.1"/>
<line x1="200.5" y1="1433.5" x2="200.5" y2="1763.3" stroke="#F0F0F0" stroke-width="1.1"/>
<line x1="206.7" y1="1433.5" x2="206.7" y2="1763.3" stroke="#F0F0F0" stroke-width="1.1"/>
<line x1="212.9" y1="1433.5" x2="212.9" y2="1763.3" stroke="#F0F0F0" stroke-width="1.1"/>
<line x1="219.1" y1="1433.5" x2="219.1" y2="1763.3" stroke="#F0F0F0" stroke-width="1.1"/>
<line x1="225.3" y1="1433.5" x2="225.3" y2="1763.3" stroke="#F0F0F0" stroke-width="1.1"/>
<line x1="231.5" y1="1433.5" x2="231.5" y2="1763.3" stroke="#F0F0F0" stroke-width="1.1"/>
<line x1="237.7" y1="1433.5" x2="237.7" y2="1763.3" stroke="#F0F0F0" stroke-width="1.1"/>
<line x1="243.9" y1="1433.5" x2="243.9" y2="1763.3" stroke="#F0F0F0" stroke-width="1.1"/>
<line x1="250.1" y1="1433.5" x2="250.1" y2="1763.3" stroke="#F0F0F0" stroke-width="1.1"/>
<line x1="256.3" y1="1433.5" x2="256.3" y2="1763.3" stroke="#F0F0F0" stroke-width="1.1"/>
<line x1="262.5" y1="1433.5" x2="262.5" y2="1763.3" stroke="#F0F0F0" stroke-width="1.1"/>
<line x1="268.7" y1="1433.5" x2="268.7" y2="1763.3" stroke="#F0F0F0" stroke-width="1.1"/>
<line x1="274.9" y1="1433.5" x2="274.9" y2="1763.3" stroke="#F0F0F0" stroke-width="1.1"/>
<line x1="281.1" y1="1433.5" x2="281.1" y2="1763.3" stroke="#F0F0F0" stroke-width="1.1"/>
<line x1="287.3" y1="1433.5" x2="287.3" y2="1763.3" stroke="#F0F0F0" stroke-width="1.1"/>
<line x1="293.5" y1="1433.5" x2="293.5" y2="1763.3" stroke="#F0F0F0" stroke-width="1.1"/>
<line x1="299.7" y1="1433.5" x2="299.7" y2="1763.3" stroke="#F0F0F0" stroke-width="1.1"/>
<line x1="305.9" y1="1433.5" x2="305.9" y2="1763.3" stroke="#F0F0F0" stroke-width="1.1"/>
<line x1="312.1" y1="1433.5" x2="312.1" y2="1763.3" stroke="#F0F0F0" stroke-width="1.1"/>
<line x1="318.3" y1="1433.5" x2="318.3" y2="1763.3" stroke="#F0F0F0" stroke-width="1.1"/>
<line x1="324.5" y1="1433.5" x2="324.5" y2="1763.3" stroke="#F0F0F0" stroke-width="1.1"/>
<line x1="330.8" y1="1433.5" x2="330.8" y2="1763.3" stroke="#F0F0F0" stroke-width="1.1"/>
<line x1="337" y1="1433.5" x2="337" y2="1763.3" stroke="#F0F0F0" stroke-width="1.1"/>
<line x1="343.2" y1="1433.5" x2="343.2" y2="1763.3" stroke="#F0F0F0" stroke-width="1.1"/>
<line x1="349.4" y1="1433.5" x2="349.4" y2="1763.3" stroke="#F0F0F0" stroke-width="1.1"/>
<line x1="355.6" y1="1433.5" x2="355.6" y2="1763.3" stroke="#F0F0F0" stroke-width="1.1"/>
<line x1="361.8" y1="1433.5" x2="361.8" y2="1763.3" stroke="#F0F0F0" stroke-width="1.1"/>
<line x1="368" y1="1433.5" x2="368" y2="1763.3" stroke="#F0F0F0" stroke-width="1.1"/>
<line x1="374.2" y1="1433.5" x2="374.2" y2="1763.3" stroke="#F0F0F0" stroke-width="1.1"/>
<line x1="380.4" y1="1433.5" x2="380.4" y2="1763.3" stroke="#F0F0F0" stroke-width="1.1"/>
<line x1="386.6" y1="1433.5" x2="386.6" y2="1763.3" stroke="#F0F0F0" stroke-width="1.1"/>
<line x1="392.8" y1="1433.5" x2="392.8" y2="1763.3" stroke="#F0F0F0" stroke-width="1.1"/>
<line x1="399" y1="1433.5" x2="399" y2="1763.3" stroke="#F0F0F0" stroke-width="1.1"/>
<line x1="405.2" y1="1433.5" x2="405.2" y2="1763.3" stroke="#F0F0F0" stroke-width="1.1"/>
<line x1="411.4" y1="1433.5" x2="411.4" y2="1763.3" stroke="#F0F0F0" stroke-width="1.1"/>
<line x1="417.6" y1="1433.5" x2="417.6" y2="1763.3" stroke="#F0F0F0" stroke-width="1.1"/>
<line x1="423.8" y1="1433.5" x2="423.8" y2="1763.3" stroke="#F0F0F0" stroke-width="1.1"/>
<line x1="430" y1="1433.5" x2="430" y2="1763.3" stroke="#F0F0F0" stroke-width="1.1"/>
<line x1="436.2" y1="1433.5" x2="436.2" y2="1763.3" stroke="#F0F0F0" stroke-width="1.1"/>
<line x1="442.4" y1="1433.5" x2="442.4" y2="1763.3" stroke="#F0F0F0" stroke-width="1.1"/>
<line x1="448.6" y1="1433.5" x2="448.6" y2="1763.3" stroke="#F0F0F0" stroke-width="1.1"/>
<line x1="454.8" y1="1433.5" x2="454.8" y2="1763.3" stroke="#F0F0F0" stroke-width="1.1"/>
<line x1="461" y1="1433.5" x2="461" y2="1763.3" stroke="#F0F0F0" stroke-width="1.1"/>
<line x1="467.2" y1="1433.5" x2="467.2" y2="1763.3" stroke="#F0F0F0" stroke-width="1.1"/>
<line x1="473.4" y1="1433.5" x2="473.4" y2="1763.3" stroke="#F0F0F0" stroke-width="1.1"/>
<line x1="479.6" y1="1433.5" x2="479.6" y2="1763.3" stroke="#F0F0F0" stroke-width="1.1"/>
<line x1="107.2" y1="1748.5" x2="480.5" y2="1748.5" stroke="#E6E6E6" stroke-width="0.9"/>
<line x1="107.2" y1="1711" x2="480.5" y2="1711" stroke="#E6E6E6" stroke-width="0.9"/>
<line x1="107.2" y1="1673.5" x2="480.5" y2="1673.5" stroke="#E6E6E6" stroke-width="0.9"/>
<line x1="107.2" y1="1636" x2="480.5" y2="1636" stroke="#E6E6E6" stroke-width="0.9"/>
<line x1="107.2" y1="1598.5" x2="480.5" y2="1598.5" stroke="#E6E6E6" stroke-width="0.9"/>
<line x1="107.2" y1="1561" x2="480.5" y2="1561" stroke="#E6E6E6" stroke-width="0.9"/>
<line x1="107.2" y1="1523.5" x2="480.5" y2="1523.5" stroke="#E6E6E6" stroke-width="0.9"/>
<line x1="107.2" y1="1486" x2="480.5" y2="1486" stroke="#E6E6E6" stroke-width="0.9"/>
<line x1="107.2" y1="1448.5" x2="480.5" y2="1448.5" stroke="#E6E6E6" stroke-width="0.9"/>
<rect x="107.2" y="1433.5" width="373.3" height="329.8" fill="none" stroke="#8C8C8C" stroke-width="1.2"/>
<line x1="103.5" y1="1748.5" x2="107.2" y2="1748.5" stroke="#555" stroke-width="1"/>
<text x="95.6" y="1754" font-size="15.8" text-anchor="end" fill="#4D4D4D">0.00</text>
<line x1="103.5" y1="1673.5" x2="107.2" y2="1673.5" stroke="#555" stroke-width="1"/>
<text x="95.6" y="1679" font-size="15.8" text-anchor="end" fill="#4D4D4D">0.25</text>
<line x1="103.5" y1="1598.5" x2="107.2" y2="1598.5" stroke="#555" stroke-width="1"/>
<text x="95.6" y="1604" font-size="15.8" text-anchor="end" fill="#4D4D4D">0.50</text>
<line x1="103.5" y1="1523.5" x2="107.2" y2="1523.5" stroke="#555" stroke-width="1"/>
<text x="95.6" y="1529" font-size="15.8" text-anchor="end" fill="#4D4D4D">0.75</text>
<line x1="103.5" y1="1448.5" x2="107.2" y2="1448.5" stroke="#555" stroke-width="1"/>
<text x="95.6" y="1454" font-size="15.8" text-anchor="end" fill="#4D4D4D">1.00</text>
<line x1="124" y1="1763.3" x2="124" y2="1766.8" stroke="#555" stroke-width="1"/>
<text x="123.5" y="1781.3" font-size="15.3" text-anchor="middle" fill="#4D4D4D">0</text>
<line x1="148.8" y1="1763.3" x2="148.8" y2="1766.8" stroke="#555" stroke-width="1"/>
<text x="148.3" y="1781.3" font-size="15.3" text-anchor="middle" fill="#4D4D4D">6</text>
<line x1="173.6" y1="1763.3" x2="173.6" y2="1766.8" stroke="#555" stroke-width="1"/>
<text x="173.1" y="1781.3" font-size="15.3" text-anchor="middle" fill="#4D4D4D">12</text>
<line x1="198.4" y1="1763.3" x2="198.4" y2="1766.8" stroke="#555" stroke-width="1"/>
<text x="197.9" y="1781.3" font-size="15.3" text-anchor="middle" fill="#4D4D4D">18</text>
<line x1="223.2" y1="1763.3" x2="223.2" y2="1766.8" stroke="#555" stroke-width="1"/>
<text x="222.7" y="1781.3" font-size="15.3" text-anchor="middle" fill="#4D4D4D">24</text>
<line x1="248.1" y1="1763.3" x2="248.1" y2="1766.8" stroke="#555" stroke-width="1"/>
<text x="247.6" y="1781.3" font-size="15.3" text-anchor="middle" fill="#4D4D4D">30</text>
<line x1="272.9" y1="1763.3" x2="272.9" y2="1766.8" stroke="#555" stroke-width="1"/>
<text x="272.4" y="1781.3" font-size="15.3" text-anchor="middle" fill="#4D4D4D">36</text>
<line x1="297.7" y1="1763.3" x2="297.7" y2="1766.8" stroke="#555" stroke-width="1"/>
<text x="297.2" y="1781.3" font-size="15.3" text-anchor="middle" fill="#4D4D4D">42</text>
<line x1="322.5" y1="1763.3" x2="322.5" y2="1766.8" stroke="#555" stroke-width="1"/>
<text x="322" y="1781.3" font-size="15.3" text-anchor="middle" fill="#4D4D4D">48</text>
<line x1="347.3" y1="1763.3" x2="347.3" y2="1766.8" stroke="#555" stroke-width="1"/>
<text x="346.8" y="1781.3" font-size="15.3" text-anchor="middle" fill="#4D4D4D">54</text>
<line x1="372.1" y1="1763.3" x2="372.1" y2="1766.8" stroke="#555" stroke-width="1"/>
<text x="371.6" y="1781.3" font-size="15.3" text-anchor="middle" fill="#4D4D4D">60</text>
<line x1="396.9" y1="1763.3" x2="396.9" y2="1766.8" stroke="#555" stroke-width="1"/>
<text x="396.4" y="1781.3" font-size="15.3" text-anchor="middle" fill="#4D4D4D">66</text>
<line x1="421.7" y1="1763.3" x2="421.7" y2="1766.8" stroke="#555" stroke-width="1"/>
<text x="421.2" y="1781.3" font-size="15.3" text-anchor="middle" fill="#4D4D4D">72</text>
<line x1="446.5" y1="1763.3" x2="446.5" y2="1766.8" stroke="#555" stroke-width="1"/>
<text x="446" y="1781.3" font-size="15.3" text-anchor="middle" fill="#4D4D4D">78</text>
<text x="299" y="1807.8" font-size="18.8" text-anchor="middle">Months</text>
<text x="46.3" y="1594" font-size="19.3" text-anchor="middle" transform="rotate(-90 46.3 1594)">Overall Survival</text>
<path d="M124 1448.6H138V1451.7H145.8V1457.3H161.5V1460.2H168.7V1463.6H170V1467.6H186.1V1470.3H198V1473.7H200.7V1479.3H202.3V1482.6H205.2V1486H208.5V1488.7H213V1492.7H232.1V1496.7H248.9V1501.2H260.5V1505.5H268.6V1510H278V1514H290.3V1517.3H292.5V1520.7H294.1V1523.6H314.3V1527.4H315.6V1533H318.3V1537.1H321.6V1540.4H323.9V1544.2H368.7V1550.9H397.1V1590.1H445.9" fill="none" stroke="#ADADAD" stroke-width="1.3"/>
<line x1="166" y1="1458" x2="166" y2="1465.2" stroke="#ADADAD" stroke-width="1"/>
<line x1="188.3" y1="1468.1" x2="188.3" y2="1475.3" stroke="#ADADAD" stroke-width="1"/>
<line x1="195" y1="1468.1" x2="195" y2="1475.3" stroke="#ADADAD" stroke-width="1"/>
<line x1="224.2" y1="1490.5" x2="224.2" y2="1497.7" stroke="#ADADAD" stroke-width="1"/>
<line x1="259" y1="1499" x2="259" y2="1506.2" stroke="#ADADAD" stroke-width="1"/>
<line x1="278" y1="1507.8" x2="278" y2="1515" stroke="#ADADAD" stroke-width="1"/>
<line x1="289.5" y1="1511.8" x2="289.5" y2="1519" stroke="#ADADAD" stroke-width="1"/>
<line x1="291" y1="1515.1" x2="291" y2="1522.3" stroke="#ADADAD" stroke-width="1"/>
<line x1="298" y1="1521.4" x2="298" y2="1528.6" stroke="#ADADAD" stroke-width="1"/>
<line x1="305" y1="1521.4" x2="305" y2="1528.6" stroke="#ADADAD" stroke-width="1"/>
<line x1="327" y1="1542" x2="327" y2="1549.2" stroke="#ADADAD" stroke-width="1"/>
<line x1="334" y1="1542" x2="334" y2="1549.2" stroke="#ADADAD" stroke-width="1"/>
<line x1="343" y1="1542" x2="343" y2="1549.2" stroke="#ADADAD" stroke-width="1"/>
<line x1="355" y1="1542" x2="355" y2="1549.2" stroke="#ADADAD" stroke-width="1"/>
<line x1="358" y1="1542" x2="358" y2="1549.2" stroke="#ADADAD" stroke-width="1"/>
<line x1="371" y1="1548.7" x2="371" y2="1555.9" stroke="#ADADAD" stroke-width="1"/>
<line x1="374" y1="1548.7" x2="374" y2="1555.9" stroke="#ADADAD" stroke-width="1"/>
<line x1="378" y1="1548.7" x2="378" y2="1555.9" stroke="#ADADAD" stroke-width="1"/>
<line x1="381" y1="1548.7" x2="381" y2="1555.9" stroke="#ADADAD" stroke-width="1"/>
<line x1="384" y1="1548.7" x2="384" y2="1555.9" stroke="#ADADAD" stroke-width="1"/>
<line x1="388" y1="1548.7" x2="388" y2="1555.9" stroke="#ADADAD" stroke-width="1"/>
<line x1="391" y1="1548.7" x2="391" y2="1555.9" stroke="#ADADAD" stroke-width="1"/>
<line x1="394" y1="1548.7" x2="394" y2="1555.9" stroke="#ADADAD" stroke-width="1"/>
<line x1="407" y1="1587.9" x2="407" y2="1595.1" stroke="#ADADAD" stroke-width="1"/>
<line x1="411" y1="1587.9" x2="411" y2="1595.1" stroke="#ADADAD" stroke-width="1"/>
<line x1="445.9" y1="1587.9" x2="445.9" y2="1595.1" stroke="#ADADAD" stroke-width="1"/>
<path d="M124 1448.5H145.4V1460.5H149.2V1472.5H159.3V1496.5H168.9V1508.5H176.5V1520.5H184.4V1532.5H187.3V1556.5H190.2V1580.5H196.2V1592.5H200.3V1604.5H208.1V1616.5H239.4V1628.5H243.7V1640.5H250.1V1652.5H257.7V1664.5H265.5V1676.5H284.4V1688.5H319.3V1700.5H348.9V1712.5H379.7" fill="none" stroke="#6E1C1C" stroke-width="1.6"/>
<line x1="351.2" y1="1710.2" x2="351.2" y2="1717.8" stroke="#6E1C1C" stroke-width="1.3"/>
<line x1="379.7" y1="1710.2" x2="379.7" y2="1717.8" stroke="#6E1C1C" stroke-width="1.3"/>
<text x="377.4" y="1486.4" font-size="16.4">ctDNA Status</text>
<line x1="378.8" y1="1498.9" x2="392" y2="1498.9" stroke="#ADADAD" stroke-width="1.6"/>
<line x1="385.4" y1="1495.5" x2="385.4" y2="1502.3" stroke="#ADADAD" stroke-width="1"/>
<line x1="378.8" y1="1515.5" x2="392" y2="1515.5" stroke="#6E1C1C" stroke-width="2"/>
<line x1="385.4" y1="1512" x2="385.4" y2="1519" stroke="#6E1C1C" stroke-width="1.2"/>
<text x="398.6" y="1502.4" font-size="16">LM neg</text>
<text x="398.6" y="1518.4" font-size="16">LM pos</text>
<text x="123.1" y="1704.3" font-size="19.2">p = 1e-09</text>
<text x="117.1" y="1829.2" font-size="15.3">77</text>
<text x="117.1" y="1845" font-size="15.3">25</text>
<text x="143.1" y="1829.2" font-size="15.3">75</text>
<text x="143.1" y="1845" font-size="15.3">23</text>
<text x="168.4" y="1829.2" font-size="15.3">71</text>
<text x="168.4" y="1845" font-size="15.3">20</text>
<text x="193.4" y="1829.2" font-size="15.3">66</text>
<text x="193.4" y="1845" font-size="15.3">13</text>
<text x="218.7" y="1829.2" font-size="15.3">60</text>
<text x="218.7" y="1845" font-size="15.3">11</text>
<text x="244.6" y="1829.2" font-size="15.3">58</text>
<text x="244.6" y="1845" font-size="15.3">9</text>
<text x="270.1" y="1829.2" font-size="15.3">54</text>
<text x="270.1" y="1845" font-size="15.3">6</text>
<text x="295.4" y="1829.2" font-size="15.3">48</text>
<text x="295.4" y="1845" font-size="15.3">5</text>
<text x="320.2" y="1829.2" font-size="15.3">41</text>
<text x="320.2" y="1845" font-size="15.3">4</text>
<text x="346.1" y="1829.2" font-size="15.3">35</text>
<text x="346.1" y="1845" font-size="15.3">4</text>
<text x="371.6" y="1829.2" font-size="15.3">24</text>
<text x="371.6" y="1845" font-size="15.3">1</text>
<text x="396.9" y="1829.2" font-size="15.3">4</text>
<text x="396.9" y="1845" font-size="15.3">0</text>
<text x="422.9" y="1829.2" font-size="15.3">1</text>
<text x="422.9" y="1845" font-size="15.3">0</text>
<text x="448.1" y="1829.2" font-size="15.3">0</text>
<text x="448.1" y="1845" font-size="15.3">0</text>
<rect x="104.2" y="1822.7" width="11.8" height="3.8" fill="#B9B9B9"/>
<rect x="104.2" y="1839.2" width="11.8" height="3.8" fill="#7E1E1E"/>
<text x="586.8" y="1422.2" font-size="27.5" font-weight="bold">e</text>
<rect x="680.1" y="1430.4" width="398.2" height="325.7" fill="#fff"/>
<line x1="680.8" y1="1430.4" x2="680.8" y2="1756.1" stroke="#F0F0F0" stroke-width="1.1"/>
<line x1="689.1" y1="1430.4" x2="689.1" y2="1756.1" stroke="#F0F0F0" stroke-width="1.1"/>
<line x1="697.4" y1="1430.4" x2="697.4" y2="1756.1" stroke="#F0F0F0" stroke-width="1.1"/>
<line x1="705.7" y1="1430.4" x2="705.7" y2="1756.1" stroke="#F0F0F0" stroke-width="1.1"/>
<line x1="714" y1="1430.4" x2="714" y2="1756.1" stroke="#F0F0F0" stroke-width="1.1"/>
<line x1="722.3" y1="1430.4" x2="722.3" y2="1756.1" stroke="#F0F0F0" stroke-width="1.1"/>
<line x1="730.6" y1="1430.4" x2="730.6" y2="1756.1" stroke="#F0F0F0" stroke-width="1.1"/>
<line x1="738.9" y1="1430.4" x2="738.9" y2="1756.1" stroke="#F0F0F0" stroke-width="1.1"/>
<line x1="747.1" y1="1430.4" x2="747.1" y2="1756.1" stroke="#F0F0F0" stroke-width="1.1"/>
<line x1="755.4" y1="1430.4" x2="755.4" y2="1756.1" stroke="#F0F0F0" stroke-width="1.1"/>
<line x1="763.7" y1="1430.4" x2="763.7" y2="1756.1" stroke="#F0F0F0" stroke-width="1.1"/>
<line x1="772" y1="1430.4" x2="772" y2="1756.1" stroke="#F0F0F0" stroke-width="1.1"/>
<line x1="780.3" y1="1430.4" x2="780.3" y2="1756.1" stroke="#F0F0F0" stroke-width="1.1"/>
<line x1="788.6" y1="1430.4" x2="788.6" y2="1756.1" stroke="#F0F0F0" stroke-width="1.1"/>
<line x1="796.9" y1="1430.4" x2="796.9" y2="1756.1" stroke="#F0F0F0" stroke-width="1.1"/>
<line x1="805.2" y1="1430.4" x2="805.2" y2="1756.1" stroke="#F0F0F0" stroke-width="1.1"/>
<line x1="813.5" y1="1430.4" x2="813.5" y2="1756.1" stroke="#F0F0F0" stroke-width="1.1"/>
<line x1="821.8" y1="1430.4" x2="821.8" y2="1756.1" stroke="#F0F0F0" stroke-width="1.1"/>
<line x1="830" y1="1430.4" x2="830" y2="1756.1" stroke="#F0F0F0" stroke-width="1.1"/>
<line x1="838.3" y1="1430.4" x2="838.3" y2="1756.1" stroke="#F0F0F0" stroke-width="1.1"/>
<line x1="846.6" y1="1430.4" x2="846.6" y2="1756.1" stroke="#F0F0F0" stroke-width="1.1"/>
<line x1="854.9" y1="1430.4" x2="854.9" y2="1756.1" stroke="#F0F0F0" stroke-width="1.1"/>
<line x1="863.2" y1="1430.4" x2="863.2" y2="1756.1" stroke="#F0F0F0" stroke-width="1.1"/>
<line x1="871.5" y1="1430.4" x2="871.5" y2="1756.1" stroke="#F0F0F0" stroke-width="1.1"/>
<line x1="879.8" y1="1430.4" x2="879.8" y2="1756.1" stroke="#F0F0F0" stroke-width="1.1"/>
<line x1="888.1" y1="1430.4" x2="888.1" y2="1756.1" stroke="#F0F0F0" stroke-width="1.1"/>
<line x1="896.4" y1="1430.4" x2="896.4" y2="1756.1" stroke="#F0F0F0" stroke-width="1.1"/>
<line x1="904.7" y1="1430.4" x2="904.7" y2="1756.1" stroke="#F0F0F0" stroke-width="1.1"/>
<line x1="913" y1="1430.4" x2="913" y2="1756.1" stroke="#F0F0F0" stroke-width="1.1"/>
<line x1="921.2" y1="1430.4" x2="921.2" y2="1756.1" stroke="#F0F0F0" stroke-width="1.1"/>
<line x1="929.5" y1="1430.4" x2="929.5" y2="1756.1" stroke="#F0F0F0" stroke-width="1.1"/>
<line x1="937.8" y1="1430.4" x2="937.8" y2="1756.1" stroke="#F0F0F0" stroke-width="1.1"/>
<line x1="946.1" y1="1430.4" x2="946.1" y2="1756.1" stroke="#F0F0F0" stroke-width="1.1"/>
<line x1="954.4" y1="1430.4" x2="954.4" y2="1756.1" stroke="#F0F0F0" stroke-width="1.1"/>
<line x1="962.7" y1="1430.4" x2="962.7" y2="1756.1" stroke="#F0F0F0" stroke-width="1.1"/>
<line x1="971" y1="1430.4" x2="971" y2="1756.1" stroke="#F0F0F0" stroke-width="1.1"/>
<line x1="979.3" y1="1430.4" x2="979.3" y2="1756.1" stroke="#F0F0F0" stroke-width="1.1"/>
<line x1="987.6" y1="1430.4" x2="987.6" y2="1756.1" stroke="#F0F0F0" stroke-width="1.1"/>
<line x1="995.9" y1="1430.4" x2="995.9" y2="1756.1" stroke="#F0F0F0" stroke-width="1.1"/>
<line x1="1004.1" y1="1430.4" x2="1004.1" y2="1756.1" stroke="#F0F0F0" stroke-width="1.1"/>
<line x1="1012.4" y1="1430.4" x2="1012.4" y2="1756.1" stroke="#F0F0F0" stroke-width="1.1"/>
<line x1="1020.7" y1="1430.4" x2="1020.7" y2="1756.1" stroke="#F0F0F0" stroke-width="1.1"/>
<line x1="1029" y1="1430.4" x2="1029" y2="1756.1" stroke="#F0F0F0" stroke-width="1.1"/>
<line x1="1037.3" y1="1430.4" x2="1037.3" y2="1756.1" stroke="#F0F0F0" stroke-width="1.1"/>
<line x1="1045.6" y1="1430.4" x2="1045.6" y2="1756.1" stroke="#F0F0F0" stroke-width="1.1"/>
<line x1="1053.9" y1="1430.4" x2="1053.9" y2="1756.1" stroke="#F0F0F0" stroke-width="1.1"/>
<line x1="1062.2" y1="1430.4" x2="1062.2" y2="1756.1" stroke="#F0F0F0" stroke-width="1.1"/>
<line x1="1070.5" y1="1430.4" x2="1070.5" y2="1756.1" stroke="#F0F0F0" stroke-width="1.1"/>
<line x1="680.1" y1="1741.3" x2="1078.3" y2="1741.3" stroke="#E6E6E6" stroke-width="0.9"/>
<line x1="680.1" y1="1704.3" x2="1078.3" y2="1704.3" stroke="#E6E6E6" stroke-width="0.9"/>
<line x1="680.1" y1="1667.3" x2="1078.3" y2="1667.3" stroke="#E6E6E6" stroke-width="0.9"/>
<line x1="680.1" y1="1630.3" x2="1078.3" y2="1630.3" stroke="#E6E6E6" stroke-width="0.9"/>
<line x1="680.1" y1="1593.2" x2="1078.3" y2="1593.2" stroke="#E6E6E6" stroke-width="0.9"/>
<line x1="680.1" y1="1556.2" x2="1078.3" y2="1556.2" stroke="#E6E6E6" stroke-width="0.9"/>
<line x1="680.1" y1="1519.2" x2="1078.3" y2="1519.2" stroke="#E6E6E6" stroke-width="0.9"/>
<line x1="680.1" y1="1482.2" x2="1078.3" y2="1482.2" stroke="#E6E6E6" stroke-width="0.9"/>
<line x1="680.1" y1="1445.2" x2="1078.3" y2="1445.2" stroke="#E6E6E6" stroke-width="0.9"/>
<rect x="680.1" y="1430.4" width="398.2" height="325.7" fill="none" stroke="#8C8C8C" stroke-width="1.2"/>
<line x1="676.4" y1="1741.3" x2="680.1" y2="1741.3" stroke="#555" stroke-width="1"/>
<text x="666.6" y="1746.8" font-size="15.8" text-anchor="end" fill="#4D4D4D">0.00</text>
<line x1="676.4" y1="1667.3" x2="680.1" y2="1667.3" stroke="#555" stroke-width="1"/>
<text x="666.6" y="1672.8" font-size="15.8" text-anchor="end" fill="#4D4D4D">0.25</text>
<line x1="676.4" y1="1593.2" x2="680.1" y2="1593.2" stroke="#555" stroke-width="1"/>
<text x="666.6" y="1598.8" font-size="15.8" text-anchor="end" fill="#4D4D4D">0.50</text>
<line x1="676.4" y1="1519.2" x2="680.1" y2="1519.2" stroke="#555" stroke-width="1"/>
<text x="666.6" y="1524.7" font-size="15.8" text-anchor="end" fill="#4D4D4D">0.75</text>
<line x1="676.4" y1="1445.2" x2="680.1" y2="1445.2" stroke="#555" stroke-width="1"/>
<text x="666.6" y="1450.7" font-size="15.8" text-anchor="end" fill="#4D4D4D">1.00</text>
<line x1="697.4" y1="1756.1" x2="697.4" y2="1759.6" stroke="#555" stroke-width="1"/>
<text x="696.9" y="1775.2" font-size="15.8" text-anchor="middle" fill="#4D4D4D">0</text>
<line x1="730.6" y1="1756.1" x2="730.6" y2="1759.6" stroke="#555" stroke-width="1"/>
<text x="730.1" y="1775.2" font-size="15.8" text-anchor="middle" fill="#4D4D4D">6</text>
<line x1="763.7" y1="1756.1" x2="763.7" y2="1759.6" stroke="#555" stroke-width="1"/>
<text x="763.2" y="1775.2" font-size="15.8" text-anchor="middle" fill="#4D4D4D">12</text>
<line x1="796.9" y1="1756.1" x2="796.9" y2="1759.6" stroke="#555" stroke-width="1"/>
<text x="796.4" y="1775.2" font-size="15.8" text-anchor="middle" fill="#4D4D4D">18</text>
<line x1="830" y1="1756.1" x2="830" y2="1759.6" stroke="#555" stroke-width="1"/>
<text x="829.5" y="1775.2" font-size="15.8" text-anchor="middle" fill="#4D4D4D">24</text>
<line x1="863.2" y1="1756.1" x2="863.2" y2="1759.6" stroke="#555" stroke-width="1"/>
<text x="862.7" y="1775.2" font-size="15.8" text-anchor="middle" fill="#4D4D4D">30</text>
<line x1="896.4" y1="1756.1" x2="896.4" y2="1759.6" stroke="#555" stroke-width="1"/>
<text x="895.9" y="1775.2" font-size="15.8" text-anchor="middle" fill="#4D4D4D">36</text>
<line x1="929.5" y1="1756.1" x2="929.5" y2="1759.6" stroke="#555" stroke-width="1"/>
<text x="929" y="1775.2" font-size="15.8" text-anchor="middle" fill="#4D4D4D">42</text>
<line x1="962.7" y1="1756.1" x2="962.7" y2="1759.6" stroke="#555" stroke-width="1"/>
<text x="962.2" y="1775.2" font-size="15.8" text-anchor="middle" fill="#4D4D4D">48</text>
<line x1="995.9" y1="1756.1" x2="995.9" y2="1759.6" stroke="#555" stroke-width="1"/>
<text x="995.4" y="1775.2" font-size="15.8" text-anchor="middle" fill="#4D4D4D">54</text>
<line x1="1029" y1="1756.1" x2="1029" y2="1759.6" stroke="#555" stroke-width="1"/>
<text x="1028.5" y="1775.2" font-size="15.8" text-anchor="middle" fill="#4D4D4D">60</text>
<line x1="1062.2" y1="1756.1" x2="1062.2" y2="1759.6" stroke="#555" stroke-width="1"/>
<text x="1061.7" y="1775.2" font-size="15.8" text-anchor="middle" fill="#4D4D4D">66</text>
<text x="890" y="1797" font-size="22.2" text-anchor="middle">Months</text>
<text x="622" y="1597" font-size="19.2" text-anchor="middle" transform="rotate(-90 622 1597)">Freedom from recurrence</text>
<path d="M697.4 1445.2H718.5V1448.6H734.2V1452.4H736.8V1456.5H756.3V1463.4H757.8V1469.1H781.4V1472.9H784V1477.6H790.3V1482.3H794V1487H797.2V1493.3H812.9V1498H816.1V1502.8H819.2V1507.5H823.9V1511.6H844.4V1515.3H859.5V1520.1H865.8V1524.8H886.9V1529.5H902.6V1534.2H907.4V1539H921.5V1543.7H937.9V1550H1078.3" fill="none" stroke="#ADADAD" stroke-width="1.3"/>
<line x1="770.4" y1="1466.9" x2="770.4" y2="1474.1" stroke="#ADADAD" stroke-width="1"/>
<line x1="879" y1="1522.6" x2="879" y2="1529.8" stroke="#ADADAD" stroke-width="1"/>
<line x1="891.6" y1="1527.3" x2="891.6" y2="1534.5" stroke="#ADADAD" stroke-width="1"/>
<line x1="904.2" y1="1532" x2="904.2" y2="1539.2" stroke="#ADADAD" stroke-width="1"/>
<line x1="923.1" y1="1541.5" x2="923.1" y2="1548.7" stroke="#ADADAD" stroke-width="1"/>
<line x1="932.5" y1="1541.5" x2="932.5" y2="1548.7" stroke="#ADADAD" stroke-width="1"/>
<line x1="956.1" y1="1547.8" x2="956.1" y2="1555" stroke="#ADADAD" stroke-width="1"/>
<line x1="967.2" y1="1547.8" x2="967.2" y2="1555" stroke="#ADADAD" stroke-width="1"/>
<line x1="978.2" y1="1547.8" x2="978.2" y2="1555" stroke="#ADADAD" stroke-width="1"/>
<line x1="989.2" y1="1547.8" x2="989.2" y2="1555" stroke="#ADADAD" stroke-width="1"/>
<line x1="1006.5" y1="1547.8" x2="1006.5" y2="1555" stroke="#ADADAD" stroke-width="1"/>
<line x1="1022.2" y1="1547.8" x2="1022.2" y2="1555" stroke="#ADADAD" stroke-width="1"/>
<line x1="1024.4" y1="1547.8" x2="1024.4" y2="1555" stroke="#ADADAD" stroke-width="1"/>
<line x1="1027" y1="1547.8" x2="1027" y2="1555" stroke="#ADADAD" stroke-width="1"/>
<line x1="1031.1" y1="1547.8" x2="1031.1" y2="1555" stroke="#ADADAD" stroke-width="1"/>
<line x1="1033.3" y1="1547.8" x2="1033.3" y2="1555" stroke="#ADADAD" stroke-width="1"/>
<line x1="1036.4" y1="1547.8" x2="1036.4" y2="1555" stroke="#ADADAD" stroke-width="1"/>
<line x1="1040.5" y1="1547.8" x2="1040.5" y2="1555" stroke="#ADADAD" stroke-width="1"/>
<line x1="1042.7" y1="1547.8" x2="1042.7" y2="1555" stroke="#ADADAD" stroke-width="1"/>
<line x1="1050.6" y1="1547.8" x2="1050.6" y2="1555" stroke="#ADADAD" stroke-width="1"/>
<line x1="1052.8" y1="1547.8" x2="1052.8" y2="1555" stroke="#ADADAD" stroke-width="1"/>
<line x1="1058.4" y1="1547.8" x2="1058.4" y2="1555" stroke="#ADADAD" stroke-width="1"/>
<path d="M697.4 1445.2H717.6V1456.5H721V1491.7H724.2V1503.4H725.4V1515.3H727.9V1527H730.1V1539H735.2V1562.6H750V1587.7H751.5V1598.8H761V1610.7H762.6V1623H772V1634.3H786.2V1646.6H801.9V1658.6H831.8V1670.2H838.1V1682.2H879V1696.3H883.7V1711.4H922.1V1726.2H1037" fill="none" stroke="#6E1C1C" stroke-width="1.6"/>
<line x1="857.9" y1="1679.9" x2="857.9" y2="1687.5" stroke="#6E1C1C" stroke-width="1.3"/>
<line x1="1037" y1="1723.9" x2="1037" y2="1731.5" stroke="#6E1C1C" stroke-width="1.3"/>
<text x="969.4" y="1480.7" font-size="16.6">ctDNA Status</text>
<line x1="970.3" y1="1494.3" x2="984.5" y2="1494.3" stroke="#ADADAD" stroke-width="1.6"/>
<line x1="977.4" y1="1490.8" x2="977.4" y2="1497.8" stroke="#ADADAD" stroke-width="1"/>
<line x1="970.3" y1="1510.8" x2="984.5" y2="1510.8" stroke="#6E1C1C" stroke-width="2"/>
<line x1="977.4" y1="1507.3" x2="977.4" y2="1514.3" stroke="#6E1C1C" stroke-width="1.2"/>
<text x="990.1" y="1498" font-size="16">LM neg</text>
<text x="990.1" y="1514.7" font-size="16">LM pos</text>
<text x="702.1" y="1694.8" font-size="19.3">p = 6e-13</text>
<text x="690.2" y="1819" font-size="15.8">77</text>
<text x="690.2" y="1836.4" font-size="15.8">25</text>
<text x="724.1" y="1819" font-size="15.8">74</text>
<text x="724.1" y="1836.4" font-size="15.8">17</text>
<text x="758" y="1819" font-size="15.8">67</text>
<text x="758" y="1836.4" font-size="15.8">10</text>
<text x="791.9" y="1819" font-size="15.8">59</text>
<text x="791.9" y="1836.4" font-size="15.8">8</text>
<text x="825.8" y="1819" font-size="15.8">52</text>
<text x="825.8" y="1836.4" font-size="15.8">7</text>
<text x="859.8" y="1819" font-size="15.8">50</text>
<text x="859.8" y="1836.4" font-size="15.8">4</text>
<text x="893.7" y="1819" font-size="15.8">45</text>
<text x="893.7" y="1836.4" font-size="15.8">2</text>
<text x="927.6" y="1819" font-size="15.8">38</text>
<text x="927.6" y="1836.4" font-size="15.8">1</text>
<text x="961.5" y="1819" font-size="15.8">32</text>
<text x="961.5" y="1836.4" font-size="15.8">1</text>
<text x="995.4" y="1819" font-size="15.8">27</text>
<text x="995.4" y="1836.4" font-size="15.8">1</text>
<text x="1029.3" y="1819" font-size="15.8">18</text>
<text x="1029.3" y="1836.4" font-size="15.8">1</text>
<text x="1063.2" y="1819" font-size="15.8">3</text>
<text x="1063.2" y="1836.4" font-size="15.8">0</text>
<rect x="654.6" y="1812.8" width="13.5" height="4.4" fill="#B9B9B9"/>
<rect x="654.6" y="1829" width="13.5" height="4.4" fill="#7E1E1E"/>
<text x="1145.9" y="1410" font-size="27.5" font-weight="bold">f</text>
<text x="1263.8" y="1384" font-size="19">Kruskal-Wallis, p = 0.005712</text>
<line x1="1252.7" y1="1745.5" x2="1761.3" y2="1745.5" stroke="#DDDDDD" stroke-width="1" stroke-dasharray="1.5 1.5"/>
<line x1="1248.7" y1="1745.5" x2="1252.7" y2="1745.5" stroke="#777" stroke-width="1"/>
<text x="1243.9" y="1750.8" font-size="15.5" text-anchor="end" fill="#4D4D4D">0</text>
<line x1="1252.7" y1="1631.8" x2="1761.3" y2="1631.8" stroke="#DDDDDD" stroke-width="1" stroke-dasharray="1.5 1.5"/>
<line x1="1248.7" y1="1631.8" x2="1252.7" y2="1631.8" stroke="#777" stroke-width="1"/>
<text x="1243.9" y="1637.1" font-size="15.5" text-anchor="end" fill="#4D4D4D">500</text>
<line x1="1252.7" y1="1518.2" x2="1761.3" y2="1518.2" stroke="#DDDDDD" stroke-width="1" stroke-dasharray="1.5 1.5"/>
<line x1="1248.7" y1="1518.2" x2="1252.7" y2="1518.2" stroke="#777" stroke-width="1"/>
<text x="1243.9" y="1523.5" font-size="15.5" text-anchor="end" fill="#4D4D4D">1000</text>
<line x1="1252.7" y1="1404.5" x2="1761.3" y2="1404.5" stroke="#DDDDDD" stroke-width="1" stroke-dasharray="1.5 1.5"/>
<line x1="1248.7" y1="1404.5" x2="1252.7" y2="1404.5" stroke="#777" stroke-width="1"/>
<text x="1243.9" y="1409.8" font-size="15.5" text-anchor="end" fill="#4D4D4D">1500</text>
<rect x="1288.6" y="1627.7" width="119.9" height="95.1" fill="#fff" stroke="#555" stroke-width="1.1"/>
<line x1="1288.6" y1="1694.4" x2="1408.5" y2="1694.4" stroke="#333" stroke-width="2"/>
<line x1="1347.7" y1="1722.8" x2="1347.7" y2="1745.5" stroke="#555" stroke-width="1.1"/>
<line x1="1347.7" y1="1627.7" x2="1347.7" y2="1487.8" stroke="#555" stroke-width="1.1"/>
<line x1="1347.7" y1="1761.5" x2="1347.7" y2="1765.5" stroke="#777" stroke-width="1"/>
<rect x="1448.4" y="1682.4" width="119.1" height="64.3" fill="#fff" stroke="#555" stroke-width="1.1"/>
<line x1="1448.4" y1="1728.7" x2="1567.5" y2="1728.7" stroke="#333" stroke-width="2"/>
<line x1="1508" y1="1682.4" x2="1508" y2="1611.7" stroke="#555" stroke-width="1.1"/>
<line x1="1508" y1="1761.5" x2="1508" y2="1765.5" stroke="#777" stroke-width="1"/>
<rect x="1607.4" y="1716.8" width="119.1" height="29.9" fill="#fff" stroke="#555" stroke-width="1.1"/>
<line x1="1607.4" y1="1733.5" x2="1726.5" y2="1733.5" stroke="#333" stroke-width="2"/>
<line x1="1667.4" y1="1716.8" x2="1667.4" y2="1711.6" stroke="#555" stroke-width="1.1"/>
<line x1="1667.4" y1="1761.5" x2="1667.4" y2="1765.5" stroke="#777" stroke-width="1"/>
<circle cx="1350.9" cy="1487.8" r="2.4" fill="#000"/>
<circle cx="1350.9" cy="1513.8" r="2.4" fill="#000"/>
<circle cx="1336.6" cy="1537.8" r="2.4" fill="#000"/>
<circle cx="1353.7" cy="1574.9" r="2.4" fill="#000"/>
<circle cx="1335" cy="1603.7" r="2.4" fill="#000"/>
<circle cx="1356.5" cy="1618.9" r="2.4" fill="#000"/>
<circle cx="1346.9" cy="1636.5" r="2.4" fill="#000"/>
<circle cx="1332.6" cy="1664.8" r="2.4" fill="#000"/>
<circle cx="1360.9" cy="1666.8" r="2.4" fill="#000"/>
<circle cx="1346.9" cy="1678.4" r="2.4" fill="#000"/>
<circle cx="1349.7" cy="1678.8" r="2.4" fill="#000"/>
<circle cx="1347.7" cy="1693.6" r="2.4" fill="#000"/>
<circle cx="1358.5" cy="1698.8" r="2.4" fill="#000"/>
<circle cx="1360.9" cy="1706.8" r="2.4" fill="#000"/>
<circle cx="1355.7" cy="1714.4" r="2.4" fill="#000"/>
<circle cx="1360.9" cy="1713.6" r="2.4" fill="#000"/>
<circle cx="1341.7" cy="1719.6" r="2.4" fill="#000"/>
<circle cx="1332.6" cy="1728.3" r="2.4" fill="#000"/>
<circle cx="1337.8" cy="1731.5" r="2.4" fill="#000"/>
<circle cx="1358.5" cy="1726.7" r="2.4" fill="#000"/>
<circle cx="1363.7" cy="1731.9" r="2.4" fill="#000"/>
<circle cx="1336.6" cy="1739.5" r="2.4" fill="#000"/>
<circle cx="1347.7" cy="1746.7" r="2.4" fill="#000"/>
<circle cx="1507.9" cy="1523.8" r="2.4" fill="#000"/>
<circle cx="1516.7" cy="1612.5" r="2.4" fill="#000"/>
<circle cx="1523.5" cy="1657.6" r="2.4" fill="#000"/>
<circle cx="1512.7" cy="1665.6" r="2.4" fill="#000"/>
<circle cx="1513.5" cy="1679.6" r="2.4" fill="#000"/>
<circle cx="1494.8" cy="1681.6" r="2.4" fill="#000"/>
<circle cx="1502.8" cy="1683.6" r="2.4" fill="#000"/>
<circle cx="1516.7" cy="1698.4" r="2.4" fill="#000"/>
<circle cx="1495.6" cy="1715.6" r="2.4" fill="#000"/>
<circle cx="1507.5" cy="1717.6" r="2.4" fill="#000"/>
<circle cx="1501.6" cy="1725.5" r="2.4" fill="#000"/>
<circle cx="1495.6" cy="1727.5" r="2.4" fill="#000"/>
<circle cx="1516.7" cy="1730.3" r="2.4" fill="#000"/>
<circle cx="1519.5" cy="1737.5" r="2.4" fill="#000"/>
<circle cx="1518.7" cy="1741.5" r="2.4" fill="#000"/>
<circle cx="1494.4" cy="1746.7" r="2.4" fill="#000"/>
<circle cx="1502.8" cy="1746.7" r="2.4" fill="#000"/>
<circle cx="1505.5" cy="1746.7" r="2.4" fill="#000"/>
<circle cx="1511.5" cy="1746.7" r="2.4" fill="#000"/>
<circle cx="1513.5" cy="1746.7" r="2.4" fill="#000"/>
<circle cx="1519.5" cy="1746.7" r="2.4" fill="#000"/>
<circle cx="1522.7" cy="1746.7" r="2.4" fill="#000"/>
<circle cx="1665.4" cy="1637.7" r="2.4" fill="#000"/>
<circle cx="1665.4" cy="1659.6" r="2.4" fill="#000"/>
<circle cx="1651.4" cy="1669.6" r="2.4" fill="#000"/>
<circle cx="1662.6" cy="1710.8" r="2.4" fill="#000"/>
<circle cx="1660.2" cy="1719.6" r="2.4" fill="#000"/>
<circle cx="1668.2" cy="1723.6" r="2.4" fill="#000"/>
<circle cx="1676.1" cy="1724.8" r="2.4" fill="#000"/>
<circle cx="1681.3" cy="1730.7" r="2.4" fill="#000"/>
<circle cx="1653.4" cy="1737.5" r="2.4" fill="#000"/>
<circle cx="1651.4" cy="1739.5" r="2.4" fill="#000"/>
<circle cx="1656.2" cy="1746.7" r="2.4" fill="#000"/>
<circle cx="1662.6" cy="1746.7" r="2.4" fill="#000"/>
<circle cx="1667.4" cy="1746.7" r="2.4" fill="#000"/>
<circle cx="1673.3" cy="1746.7" r="2.4" fill="#000"/>
<path d="M1508 1419.9V1412.7H1667.4V1419.9" fill="none" stroke="#333" stroke-width="1"/>
<text x="1598.2" y="1409" font-size="15.5" text-anchor="middle">0.7</text>
<path d="M1347.7 1451.1V1443.9H1667.4V1451.1" fill="none" stroke="#333" stroke-width="1"/>
<text x="1531.5" y="1441" font-size="15.5" text-anchor="middle">0.0046</text>
<path d="M1347.7 1481.9V1474.7H1508V1481.9" fill="none" stroke="#333" stroke-width="1"/>
<text x="1452" y="1471.9" font-size="15.5" text-anchor="middle">0.0095</text>
<text x="1345.2" y="1789.5" font-size="16" text-anchor="middle" fill="#4D4D4D">Call</text>
<text x="1509" y="1789.5" font-size="16" text-anchor="middle" fill="#4D4D4D">No Call</text>
<text x="1659.4" y="1789.5" font-size="16" text-anchor="middle" fill="#4D4D4D">Unevaluable</text>
<text x="1519.5" y="1825.4" font-size="19.2" text-anchor="middle">Landmark ctDNA status</text>
<text x="1186" y="1551.7" font-size="19.2" text-anchor="middle" transform="rotate(-90 1186 1551.7)">Lead time (days)</text>
<text x="10.5" y="1964" font-size="27.5" font-weight="bold">g</text>
<text x="67.7" y="2005.4" font-size="19.2">No new abnormality:</text>
<circle cx="148.3" cy="2146.2" r="84.9" fill="none" stroke="#EBEBEB" stroke-width="2.2"/>
<line x1="132.9" y1="2066.8" x2="131.9" y2="2061.9" stroke="#E8E8E8" stroke-width="1.2"/>
<line x1="148.3" y1="2065.3" x2="148.3" y2="2060.3" stroke="#E8E8E8" stroke-width="1.2"/>
<line x1="226.4" y1="2167.1" x2="231.3" y2="2168.4" stroke="#E8E8E8" stroke-width="1.2"/>
<line x1="114.1" y1="2219.5" x2="112" y2="2224.1" stroke="#E8E8E8" stroke-width="1.2"/>
<line x1="82" y1="2099.8" x2="77.9" y2="2096.9" stroke="#E8E8E8" stroke-width="1.2"/>
<path d="M148.3 2146.2L148.3 2070.1A76.1 76.1 0 0 1 165.8 2072.1Z" fill="#7899D6"/>
<path d="M148.3 2146.2L165.8 2072.1A76.1 76.1 0 0 1 206.3 2097Z" fill="#3FB82E"/>
<path d="M148.3 2146.2L206.3 2097A76.1 76.1 0 1 1 148.3 2070.1Z" fill="#F8827A"/>
<text x="152.6" y="2114.5" font-size="17.3" text-anchor="middle" fill="#142450">6</text>
<text x="168.7" y="2119.4" font-size="17.3" text-anchor="middle" fill="#0B3B0B">15</text>
<text x="133.5" y="2186.9" font-size="17.3" text-anchor="middle" fill="#3A0808">124</text>
<line x1="191.2" y1="2082.4" x2="212.1" y2="2053.3" stroke="#000" stroke-width="1.6"/>
<path d="M217.3 2046L214.8 2057.7L207 2052.1Z" fill="#000"/>
<line x1="104.6" y1="2221.3" x2="92.1" y2="2240.5" stroke="#000" stroke-width="1.6"/>
<path d="M87.2 2248L89.2 2236.2L97.2 2241.4Z" fill="#000"/>
<text x="242.6" y="2050.4" font-size="16.2">11 patients:</text>
<text x="242.6" y="2070" font-size="16.2">9 (82%) recurrences</text>
<text x="242.6" y="2089.6" font-size="16.2">1 (9%) no event</text>
<text x="242.6" y="2109.2" font-size="16.2">1 (9%) death</text>
<text x="67.7" y="2269.2" font-size="16.2">53 patients:</text>
<text x="67.7" y="2288.7" font-size="16.2">26 (49%) no event</text>
<text x="67.7" y="2308.2" font-size="16.2">14 (26%) recurrences</text>
<text x="67.7" y="2327.7" font-size="16.2">11 (21%) second primary</text>
<text x="67.7" y="2347.2" font-size="16.2">1 (2%) unresected disease</text>
<text x="67.7" y="2366.7" font-size="16.2">1 (2%) death</text>
<text x="334.5" y="2000.9" font-size="19.2">New equivocal abnormality:</text>
<circle cx="534.9" cy="2146.1" r="86" fill="none" stroke="#EBEBEB" stroke-width="2.2"/>
<line x1="519.3" y1="2065.6" x2="518.3" y2="2060.7" stroke="#E8E8E8" stroke-width="1.2"/>
<line x1="534.9" y1="2064.1" x2="534.9" y2="2059.1" stroke="#E8E8E8" stroke-width="1.2"/>
<line x1="614.1" y1="2167.3" x2="618.9" y2="2168.6" stroke="#E8E8E8" stroke-width="1.2"/>
<line x1="500.2" y1="2220.4" x2="498.1" y2="2224.9" stroke="#E8E8E8" stroke-width="1.2"/>
<line x1="467.7" y1="2099.1" x2="463.6" y2="2096.2" stroke="#E8E8E8" stroke-width="1.2"/>
<path d="M534.9 2146.1L534.9 2069.8A76.3 76.3 0 0 1 575.8 2081.7Z" fill="#7899D6"/>
<path d="M534.9 2146.1L575.8 2081.7A76.3 76.3 0 0 1 600 2185.9Z" fill="#3FB82E"/>
<path d="M534.9 2146.1L600 2185.9A76.3 76.3 0 1 1 534.9 2069.8Z" fill="#F8827A"/>
<text x="545.5" y="2115.8" font-size="17.3" text-anchor="middle" fill="#142450">14</text>
<text x="571.2" y="2144" font-size="17.3" text-anchor="middle" fill="#0B3B0B">37</text>
<text x="497" y="2171.8" font-size="17.3" text-anchor="middle" fill="#3A0808">95</text>
<line x1="606" y1="2118.9" x2="644.1" y2="2097.6" stroke="#000" stroke-width="1.6"/>
<path d="M652 2093.2L644.7 2102.8L640.1 2094.4Z" fill="#000"/>
<line x1="464.4" y1="2192.4" x2="440" y2="2209.6" stroke="#000" stroke-width="1.6"/>
<path d="M432.6 2214.8L438.8 2204.5L444.4 2212.4Z" fill="#000"/>
<text x="661.1" y="2064.4" font-size="16.2">23 patients:</text>
<text x="661.1" y="2084" font-size="16.2">20 (87%) recurrences</text>
<text x="661.1" y="2103.6" font-size="16.2">1 (4%) no event</text>
<text x="661.1" y="2123.2" font-size="16.2">1 (4%) death</text>
<text x="661.1" y="2142.8" font-size="16.2">1 (4%) second primary</text>
<text x="371.5" y="2236" font-size="16.2">54 patients:</text>
<text x="371.5" y="2255.7" font-size="16.2">23 (43%) no event</text>
<text x="371.5" y="2275.4" font-size="16.2">15 (28%) recurrences</text>
<text x="371.5" y="2295" font-size="16.2">10 (19%) second primary</text>
<text x="371.5" y="2314.7" font-size="16.2">4 (7%) death</text>
<text x="371.5" y="2334.4" font-size="16.2">2 (4%) unresected disease</text>
<circle cx="619" cy="2250" r="18.2" fill="#F8827A"/>
<circle cx="619" cy="2300.5" r="18.2" fill="#3FB82E"/>
<circle cx="620.2" cy="2354" r="18.2" fill="#7899D6"/>
<text x="650" y="2253" font-size="19.2">ctDNA neg</text>
<text x="650" y="2303" font-size="19.2">ctDNA pos</text>
<text x="650" y="2348.3" font-size="19.2">No ctDNA sampling</text>
<text x="650" y="2371" font-size="19.2">precedes scan</text>
<rect x="68.9" y="2388.9" width="382.9" height="34.9" fill="none" stroke="#1B9BC9" stroke-width="2.4"/>
<text x="77" y="2412.2" font-size="19.2">Number in pi-chart = total number of scans</text>
<text x="839.7" y="1964.2" font-size="27.5" font-weight="bold">h</text>
<text x="895.4" y="1994" font-size="19.3">Equivocal sites on surveillance imaging:</text>
<line x1="897.7" y1="2328.3" x2="1303" y2="2328.3" stroke="#EBEBEB" stroke-width="1"/>
<line x1="894.9" y1="2328.3" x2="897.7" y2="2328.3" stroke="#999" stroke-width="1"/>
<text x="891.2" y="2333.9" font-size="16" text-anchor="end" fill="#4D4D4D">0</text>
<line x1="897.7" y1="2260.8" x2="1303" y2="2260.8" stroke="#EBEBEB" stroke-width="1"/>
<line x1="894.9" y1="2260.8" x2="897.7" y2="2260.8" stroke="#999" stroke-width="1"/>
<text x="891.2" y="2266.4" font-size="16" text-anchor="end" fill="#4D4D4D">20</text>
<line x1="897.7" y1="2193.3" x2="1303" y2="2193.3" stroke="#EBEBEB" stroke-width="1"/>
<line x1="894.9" y1="2193.3" x2="897.7" y2="2193.3" stroke="#999" stroke-width="1"/>
<text x="891.2" y="2198.9" font-size="16" text-anchor="end" fill="#4D4D4D">40</text>
<line x1="897.7" y1="2125.8" x2="1303" y2="2125.8" stroke="#EBEBEB" stroke-width="1"/>
<line x1="894.9" y1="2125.8" x2="897.7" y2="2125.8" stroke="#999" stroke-width="1"/>
<text x="891.2" y="2131.4" font-size="16" text-anchor="end" fill="#4D4D4D">60</text>
<rect x="909.1" y="2076.5" width="69.4" height="251.8" fill="#4D4D4D"/>
<rect x="987.3" y="2171" width="69.4" height="157.3" fill="#4D4D4D"/>
<rect x="1065.3" y="2201.1" width="69.7" height="127.2" fill="#4D4D4D"/>
<rect x="1142.9" y="2265.2" width="70.3" height="63.1" fill="#4D4D4D"/>
<rect x="1221.2" y="2287.5" width="70.3" height="40.8" fill="#4D4D4D"/>
<line x1="943.8" y1="2341" x2="943.8" y2="2343.5" stroke="#999" stroke-width="1"/>
<text x="948.3" y="2352.5" font-size="16" text-anchor="end" fill="#4D4D4D" transform="rotate(-90 948.3 2352.5)">Lung tissue or nodules</text>
<line x1="1022" y1="2341" x2="1022" y2="2343.5" stroke="#999" stroke-width="1"/>
<text x="1026.5" y="2350" font-size="16" text-anchor="end" fill="#4D4D4D" transform="rotate(-90 1026.5 2350)">Lymph nodes</text>
<line x1="1100.3" y1="2341" x2="1100.3" y2="2343.5" stroke="#999" stroke-width="1"/>
<text x="1104.8" y="2351" font-size="16" text-anchor="end" fill="#4D4D4D" transform="rotate(-90 1104.8 2351)">Pleura pleural Effusion</text>
<line x1="1178.5" y1="2341" x2="1178.5" y2="2343.5" stroke="#999" stroke-width="1"/>
<text x="1183" y="2354" font-size="16" text-anchor="end" fill="#4D4D4D" transform="rotate(-90 1183 2354)">Other</text>
<line x1="1256.7" y1="2341" x2="1256.7" y2="2343.5" stroke="#999" stroke-width="1"/>
<text x="1261.2" y="2354" font-size="16" text-anchor="end" fill="#4D4D4D" transform="rotate(-90 1261.2 2354)">Atelectasis collapse</text>
<text x="857" y="2223" font-size="19.2" text-anchor="middle" transform="rotate(-90 857 2223)">Count</text>
<text x="1308.4" y="1962.6" font-size="27.5" font-weight="bold">i</text>
<text x="1369.2" y="2000.9" font-size="18.5">Equivocal lymph node analysis</text>
<line x1="1366" y1="2318.5" x2="1368.5" y2="2318.5" stroke="#999" stroke-width="1"/>
<text x="1364.9" y="2324.8" font-size="18" text-anchor="end" fill="#4D4D4D">0</text>
<line x1="1366" y1="2244.1" x2="1368.5" y2="2244.1" stroke="#999" stroke-width="1"/>
<text x="1364.9" y="2250.4" font-size="18" text-anchor="end" fill="#4D4D4D">5</text>
<line x1="1366" y1="2169.7" x2="1368.5" y2="2169.7" stroke="#999" stroke-width="1"/>
<text x="1364.9" y="2176" font-size="18" text-anchor="end" fill="#4D4D4D">10</text>
<line x1="1366" y1="2095.3" x2="1368.5" y2="2095.3" stroke="#999" stroke-width="1"/>
<text x="1364.9" y="2101.6" font-size="18" text-anchor="end" fill="#4D4D4D">15</text>
<line x1="1366" y1="2020.9" x2="1368.5" y2="2020.9" stroke="#999" stroke-width="1"/>
<text x="1364.9" y="2027.2" font-size="18" text-anchor="end" fill="#4D4D4D">20</text>
<rect x="1389.2" y="2303.6" width="116.5" height="14.9" fill="#6E8B7E"/>
<rect x="1389.2" y="2273.9" width="116.5" height="29.8" fill="#80C8C2"/>
<rect x="1389.2" y="2229.2" width="116.5" height="44.6" fill="#52762A"/>
<rect x="1389.2" y="2154.8" width="116.5" height="74.4" fill="#8B333D"/>
<rect x="1389.2" y="2020.9" width="116.5" height="133.9" fill="#1F4570"/>
<rect x="1519" y="2303.6" width="117.2" height="14.9" fill="#80C8C2"/>
<rect x="1519" y="2273.9" width="117.2" height="29.8" fill="#52762A"/>
<rect x="1519" y="2110.2" width="117.2" height="163.7" fill="#8B333D"/>
<line x1="1447.1" y1="2334" x2="1447.1" y2="2336" stroke="#999" stroke-width="1"/>
<line x1="1577.3" y1="2334" x2="1577.3" y2="2336" stroke="#999" stroke-width="1"/>
<text x="1445.8" y="2356.2" font-size="16" text-anchor="middle" fill="#222">ctDNA Negative</text>
<text x="1589.6" y="2356.2" font-size="16" text-anchor="middle" fill="#222">ctDNA Positive</text>
<text x="1528" y="2382.8" font-size="19.2" text-anchor="middle">Patient ctDNA status preceding scan</text>
<text x="1341" y="2174.7" font-size="19.2" text-anchor="middle" transform="rotate(-90 1341 2174.7)">Patient count</text>
<text x="1662.2" y="2052.5" font-size="16">Relapse data</text>
<rect x="1663.5" y="2062.2" width="21" height="20.4" fill="#1F4570"/>
<rect x="1663.5" y="2085.1" width="21" height="20.4" fill="#8B333D"/>
<rect x="1663.5" y="2108" width="21" height="20.4" fill="#52762A"/>
<rect x="1663.5" y="2130.9" width="21" height="20.4" fill="#80C8C2"/>
<rect x="1663.5" y="2153.8" width="21" height="20.4" fill="#6E8B7E"/>
<text x="1693.8" y="2077.5" font-size="16">No recurrence</text>
<text x="1693.8" y="2101.5" font-size="16">Recurred with LN</text>
<text x="1695" y="2122.4" font-size="16">Recurred with no LN</text>
<text x="1693.8" y="2146.4" font-size="16">Second primary</text>
<text x="1696" y="2171.4" font-size="16">Incompletely</text>
<text x="1696" y="2189.7" font-size="16">resected LN</text>
</svg>
</body></html>
